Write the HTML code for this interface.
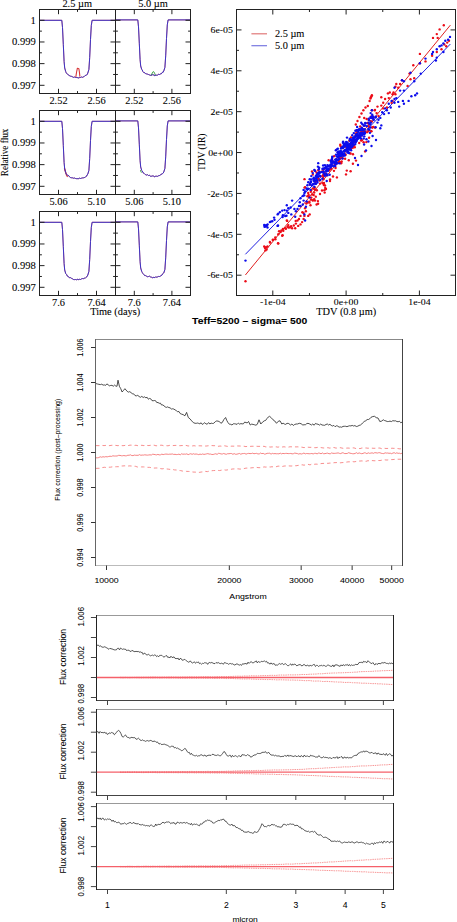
<!DOCTYPE html>
<html><head><meta charset="utf-8"><style>
html,body{margin:0;padding:0;background:#fff;}
body{width:457px;height:922px;overflow:hidden;}
svg{display:block;}

</style></head><body>
<svg width="457" height="922" viewBox="0 0 457 922">
<rect width="457" height="922" fill="#fff"/>
<polyline points="39.5,20.3 61.8,20.3 62.5,27.52 63.3,44.37 64.1,61.56 64.7,67.97 65.7,71.53 66.23,72.8 66.77,73.55 67.3,74.1 68.03,74.58 68.77,74.96 69.5,75.82 70.5,76.16 71.5,76.36 72.5,76.8 73.5,77.37 74.5,77.02 75.5,77.49 76.33,77.5 77.17,77.66 78,77.6 78.83,78.05 79.67,77.53 80.5,77.49 81.5,76.99 82.5,77.33 83.5,76.8 84.33,76.44 85.17,75.51 86,75.31 86.6,75.05 87.2,74.4 87.8,73.07 88.9,69.46 89.7,57.49 90.5,39.5 91.3,25.46 92.1,20.3 115.5,20.3" fill="none" stroke="#d8383a" stroke-width="0.75" stroke-linejoin="round" />
<polyline points="75.8,77.2 76.6,72 77.4,68.2 78.9,68.8 79.4,72 79.9,76.6" fill="none" stroke="#d8383a" stroke-width="1.1" stroke-linejoin="round" />
<polyline points="39.5,20.3 61.8,20.3 62.5,27.52 63.3,44.37 64.1,61.56 64.7,67.97 65.7,71.53 66.23,72.8 66.77,73.55 67.3,74.1 68.03,74.58 68.77,74.96 69.5,75.82 70.5,76.16 71.5,76.36 72.5,76.8 73.5,77.37 74.5,77.02 75.5,77.49 76.33,77.5 77.17,77.66 78,77.6 78.83,78.05 79.67,77.53 80.5,77.49 81.5,76.99 82.5,77.33 83.5,76.8 84.33,76.44 85.17,75.51 86,75.31 86.6,75.05 87.2,74.4 87.8,73.07 88.9,69.46 89.7,57.49 90.5,39.5 91.3,25.46 92.1,20.3 115.5,20.3" fill="none" stroke="#3030cc" stroke-width="0.95" stroke-linejoin="round" />
<rect x="39.5" y="9.5" width="76.0" height="84.0" fill="none" stroke="#222" stroke-width="1"/>
<line x1="58.5" y1="93.5" x2="58.5" y2="88.8" stroke="#222" stroke-width="1" />
<line x1="58.5" y1="9.5" x2="58.5" y2="14.2" stroke="#222" stroke-width="1" />
<line x1="77.5" y1="93.5" x2="77.5" y2="91.1" stroke="#222" stroke-width="1" />
<line x1="77.5" y1="9.5" x2="77.5" y2="11.9" stroke="#222" stroke-width="1" />
<line x1="96.5" y1="93.5" x2="96.5" y2="88.8" stroke="#222" stroke-width="1" />
<line x1="96.5" y1="9.5" x2="96.5" y2="14.2" stroke="#222" stroke-width="1" />
<line x1="39.5" y1="20.3" x2="44.5" y2="20.3" stroke="#222" stroke-width="1" />
<line x1="115.5" y1="20.3" x2="110.5" y2="20.3" stroke="#222" stroke-width="1" />
<line x1="39.5" y1="31.13" x2="41.9" y2="31.13" stroke="#222" stroke-width="1" />
<line x1="115.5" y1="31.13" x2="113.1" y2="31.13" stroke="#222" stroke-width="1" />
<line x1="39.5" y1="41.97" x2="44.5" y2="41.97" stroke="#222" stroke-width="1" />
<line x1="115.5" y1="41.97" x2="110.5" y2="41.97" stroke="#222" stroke-width="1" />
<line x1="39.5" y1="52.8" x2="41.9" y2="52.8" stroke="#222" stroke-width="1" />
<line x1="115.5" y1="52.8" x2="113.1" y2="52.8" stroke="#222" stroke-width="1" />
<line x1="39.5" y1="63.63" x2="44.5" y2="63.63" stroke="#222" stroke-width="1" />
<line x1="115.5" y1="63.63" x2="110.5" y2="63.63" stroke="#222" stroke-width="1" />
<line x1="39.5" y1="74.47" x2="41.9" y2="74.47" stroke="#222" stroke-width="1" />
<line x1="115.5" y1="74.47" x2="113.1" y2="74.47" stroke="#222" stroke-width="1" />
<line x1="39.5" y1="85.3" x2="44.5" y2="85.3" stroke="#222" stroke-width="1" />
<line x1="115.5" y1="85.3" x2="110.5" y2="85.3" stroke="#222" stroke-width="1" />
<text transform="translate(58.5,103.7) scale(1.08,1)" font-family="&quot;Liberation Serif&quot;, serif" font-size="9.6" font-weight="normal" text-anchor="middle" fill="#000" stroke="#000" stroke-width="0.08">2.52</text>
<text transform="translate(96.5,103.7) scale(1.08,1)" font-family="&quot;Liberation Serif&quot;, serif" font-size="9.6" font-weight="normal" text-anchor="middle" fill="#000" stroke="#000" stroke-width="0.08">2.56</text>
<polyline points="115.5,19.9 137.8,19.9 138.5,26.88 139.3,43.17 140.1,59.79 140.7,65.99 141.7,69.43 142.23,69.82 142.77,71.51 143.3,71.92 144.03,72.79 144.77,72.73 145.5,73.58 146.5,73.89 147.5,74.15 148.5,74.52 149.5,74.93 150.5,75.31 151.5,75.19 152.33,74.74 153.17,74.7 154,75.3 154.83,75.67 155.67,75.15 156.5,75.19 157.5,75.28 158.5,74.15 159.5,74.52 160.33,73.98 161.17,73.83 162,73.08 162.6,72.04 163.2,72.18 163.8,70.92 164.9,67.43 165.7,55.85 166.5,38.46 167.3,24.89 168.1,19.9 190.5,19.9" fill="none" stroke="#d8383a" stroke-width="0.75" stroke-linejoin="round" />
<polyline points="151.2,75.5 152.6,72.2 153.6,71.6 154.6,73.2 155.4,75.6" fill="none" stroke="#3aa040" stroke-width="1.0" stroke-linejoin="round" />
<polyline points="115.5,19.9 137.8,19.9 138.5,26.88 139.3,43.17 140.1,59.79 140.7,65.99 141.7,69.43 142.23,69.82 142.77,71.51 143.3,71.92 144.03,72.79 144.77,72.73 145.5,73.58 146.5,73.89 147.5,74.15 148.5,74.52 149.5,74.93 150.5,75.31 151.5,75.19 152.33,74.74 153.17,74.7 154,75.3 154.83,75.67 155.67,75.15 156.5,75.19 157.5,75.28 158.5,74.15 159.5,74.52 160.33,73.98 161.17,73.83 162,73.08 162.6,72.04 163.2,72.18 163.8,70.92 164.9,67.43 165.7,55.85 166.5,38.46 167.3,24.89 168.1,19.9 190.5,19.9" fill="none" stroke="#3030cc" stroke-width="0.95" stroke-linejoin="round" />
<rect x="115.5" y="9.5" width="75.0" height="84.0" fill="none" stroke="#222" stroke-width="1"/>
<line x1="134.3" y1="93.5" x2="134.3" y2="88.8" stroke="#222" stroke-width="1" />
<line x1="134.3" y1="9.5" x2="134.3" y2="14.2" stroke="#222" stroke-width="1" />
<line x1="153.1" y1="93.5" x2="153.1" y2="91.1" stroke="#222" stroke-width="1" />
<line x1="153.1" y1="9.5" x2="153.1" y2="11.9" stroke="#222" stroke-width="1" />
<line x1="171.9" y1="93.5" x2="171.9" y2="88.8" stroke="#222" stroke-width="1" />
<line x1="171.9" y1="9.5" x2="171.9" y2="14.2" stroke="#222" stroke-width="1" />
<line x1="115.5" y1="20.3" x2="120.5" y2="20.3" stroke="#222" stroke-width="1" />
<line x1="190.5" y1="20.3" x2="185.5" y2="20.3" stroke="#222" stroke-width="1" />
<line x1="115.5" y1="31.13" x2="117.9" y2="31.13" stroke="#222" stroke-width="1" />
<line x1="190.5" y1="31.13" x2="188.1" y2="31.13" stroke="#222" stroke-width="1" />
<line x1="115.5" y1="41.97" x2="120.5" y2="41.97" stroke="#222" stroke-width="1" />
<line x1="190.5" y1="41.97" x2="185.5" y2="41.97" stroke="#222" stroke-width="1" />
<line x1="115.5" y1="52.8" x2="117.9" y2="52.8" stroke="#222" stroke-width="1" />
<line x1="190.5" y1="52.8" x2="188.1" y2="52.8" stroke="#222" stroke-width="1" />
<line x1="115.5" y1="63.63" x2="120.5" y2="63.63" stroke="#222" stroke-width="1" />
<line x1="190.5" y1="63.63" x2="185.5" y2="63.63" stroke="#222" stroke-width="1" />
<line x1="115.5" y1="74.47" x2="117.9" y2="74.47" stroke="#222" stroke-width="1" />
<line x1="190.5" y1="74.47" x2="188.1" y2="74.47" stroke="#222" stroke-width="1" />
<line x1="115.5" y1="85.3" x2="120.5" y2="85.3" stroke="#222" stroke-width="1" />
<line x1="190.5" y1="85.3" x2="185.5" y2="85.3" stroke="#222" stroke-width="1" />
<text transform="translate(134.3,103.7) scale(1.08,1)" font-family="&quot;Liberation Serif&quot;, serif" font-size="9.6" font-weight="normal" text-anchor="middle" fill="#000" stroke="#000" stroke-width="0.08">2.52</text>
<text transform="translate(171.9,103.7) scale(1.08,1)" font-family="&quot;Liberation Serif&quot;, serif" font-size="9.6" font-weight="normal" text-anchor="middle" fill="#000" stroke="#000" stroke-width="0.08">2.56</text>
<text transform="translate(35.8,23.7) scale(1.08,1)" font-family="&quot;Liberation Serif&quot;, serif" font-size="9.8" font-weight="normal" text-anchor="end" fill="#000" stroke="#000" stroke-width="0.08">1</text>
<text transform="translate(35.8,45.37) scale(1.08,1)" font-family="&quot;Liberation Serif&quot;, serif" font-size="9.8" font-weight="normal" text-anchor="end" fill="#000" stroke="#000" stroke-width="0.08">0.999</text>
<text transform="translate(35.8,67.03) scale(1.08,1)" font-family="&quot;Liberation Serif&quot;, serif" font-size="9.8" font-weight="normal" text-anchor="end" fill="#000" stroke="#000" stroke-width="0.08">0.998</text>
<text transform="translate(35.8,88.7) scale(1.08,1)" font-family="&quot;Liberation Serif&quot;, serif" font-size="9.8" font-weight="normal" text-anchor="end" fill="#000" stroke="#000" stroke-width="0.08">0.997</text>
<polyline points="39.5,121.3 61.8,121.3 62.5,128.52 63.3,145.37 64.1,162.56 64.7,168.97 65.7,172.53 66.23,173.93 66.77,174.78 67.3,175.1 68.03,175.15 68.77,175.75 69.5,176.82 70.5,177.55 71.5,177.76 72.5,177.8 73.5,178.23 74.5,178.03 75.5,178.49 76.33,178.65 77.17,178.69 78,178.6 78.83,178.66 79.67,178.11 80.5,178.49 81.5,178.17 82.5,177.9 83.5,177.8 84.33,177.57 85.17,177.4 86,176.31 86.6,176.1 87.2,174.87 87.8,174.07 88.9,170.46 89.7,158.49 90.5,140.5 91.3,126.46 92.1,121.3 115.5,121.3" fill="none" stroke="#d8383a" stroke-width="0.75" stroke-linejoin="round" />
<polyline points="64.4,168 65.4,171.5 66.6,175.5 67.6,176.8" fill="none" stroke="#d8383a" stroke-width="1.2" stroke-linejoin="round" />
<polyline points="39.5,121.3 61.8,121.3 62.5,128.52 63.3,145.37 64.1,162.56 64.7,168.97 65.7,172.53 66.23,173.93 66.77,174.78 67.3,175.1 68.03,175.15 68.77,175.75 69.5,176.82 70.5,177.55 71.5,177.76 72.5,177.8 73.5,178.23 74.5,178.03 75.5,178.49 76.33,178.65 77.17,178.69 78,178.6 78.83,178.66 79.67,178.11 80.5,178.49 81.5,178.17 82.5,177.9 83.5,177.8 84.33,177.57 85.17,177.4 86,176.31 86.6,176.1 87.2,174.87 87.8,174.07 88.9,170.46 89.7,158.49 90.5,140.5 91.3,126.46 92.1,121.3 115.5,121.3" fill="none" stroke="#3030cc" stroke-width="0.95" stroke-linejoin="round" />
<rect x="39.5" y="110.5" width="76.0" height="84.0" fill="none" stroke="#222" stroke-width="1"/>
<line x1="58.5" y1="194.5" x2="58.5" y2="189.8" stroke="#222" stroke-width="1" />
<line x1="58.5" y1="110.5" x2="58.5" y2="115.2" stroke="#222" stroke-width="1" />
<line x1="77.5" y1="194.5" x2="77.5" y2="192.1" stroke="#222" stroke-width="1" />
<line x1="77.5" y1="110.5" x2="77.5" y2="112.9" stroke="#222" stroke-width="1" />
<line x1="96.5" y1="194.5" x2="96.5" y2="189.8" stroke="#222" stroke-width="1" />
<line x1="96.5" y1="110.5" x2="96.5" y2="115.2" stroke="#222" stroke-width="1" />
<line x1="39.5" y1="121.3" x2="44.5" y2="121.3" stroke="#222" stroke-width="1" />
<line x1="115.5" y1="121.3" x2="110.5" y2="121.3" stroke="#222" stroke-width="1" />
<line x1="39.5" y1="132.13" x2="41.9" y2="132.13" stroke="#222" stroke-width="1" />
<line x1="115.5" y1="132.13" x2="113.1" y2="132.13" stroke="#222" stroke-width="1" />
<line x1="39.5" y1="142.97" x2="44.5" y2="142.97" stroke="#222" stroke-width="1" />
<line x1="115.5" y1="142.97" x2="110.5" y2="142.97" stroke="#222" stroke-width="1" />
<line x1="39.5" y1="153.8" x2="41.9" y2="153.8" stroke="#222" stroke-width="1" />
<line x1="115.5" y1="153.8" x2="113.1" y2="153.8" stroke="#222" stroke-width="1" />
<line x1="39.5" y1="164.63" x2="44.5" y2="164.63" stroke="#222" stroke-width="1" />
<line x1="115.5" y1="164.63" x2="110.5" y2="164.63" stroke="#222" stroke-width="1" />
<line x1="39.5" y1="175.47" x2="41.9" y2="175.47" stroke="#222" stroke-width="1" />
<line x1="115.5" y1="175.47" x2="113.1" y2="175.47" stroke="#222" stroke-width="1" />
<line x1="39.5" y1="186.3" x2="44.5" y2="186.3" stroke="#222" stroke-width="1" />
<line x1="115.5" y1="186.3" x2="110.5" y2="186.3" stroke="#222" stroke-width="1" />
<text transform="translate(58.5,204.7) scale(1.08,1)" font-family="&quot;Liberation Serif&quot;, serif" font-size="9.6" font-weight="normal" text-anchor="middle" fill="#000" stroke="#000" stroke-width="0.08">5.06</text>
<text transform="translate(96.5,204.7) scale(1.08,1)" font-family="&quot;Liberation Serif&quot;, serif" font-size="9.6" font-weight="normal" text-anchor="middle" fill="#000" stroke="#000" stroke-width="0.08">5.10</text>
<polyline points="115.5,120.9 137.8,120.9 138.5,127.88 139.3,144.17 140.1,160.79 140.7,166.99 141.7,170.43 142.23,170.94 142.77,172.14 143.3,172.92 144.03,173.32 144.77,174.15 145.5,174.58 146.5,175.05 147.5,174.69 148.5,175.52 149.5,175.16 150.5,176.37 151.5,176.19 152.33,175.94 153.17,175.94 154,176.3 154.83,176.86 155.67,176.19 156.5,176.19 157.5,176.37 158.5,175.72 159.5,175.52 160.33,175.21 161.17,174.14 162,174.08 162.6,173.53 163.2,173.09 163.8,171.92 164.9,168.43 165.7,156.85 166.5,139.46 167.3,125.89 168.1,120.9 190.5,120.9" fill="none" stroke="#d8383a" stroke-width="0.75" stroke-linejoin="round" />
<polyline points="140.4,170.2 141.4,172.6" fill="none" stroke="#3aa040" stroke-width="1.0" stroke-linejoin="round" />
<polyline points="115.5,120.9 137.8,120.9 138.5,127.88 139.3,144.17 140.1,160.79 140.7,166.99 141.7,170.43 142.23,170.94 142.77,172.14 143.3,172.92 144.03,173.32 144.77,174.15 145.5,174.58 146.5,175.05 147.5,174.69 148.5,175.52 149.5,175.16 150.5,176.37 151.5,176.19 152.33,175.94 153.17,175.94 154,176.3 154.83,176.86 155.67,176.19 156.5,176.19 157.5,176.37 158.5,175.72 159.5,175.52 160.33,175.21 161.17,174.14 162,174.08 162.6,173.53 163.2,173.09 163.8,171.92 164.9,168.43 165.7,156.85 166.5,139.46 167.3,125.89 168.1,120.9 190.5,120.9" fill="none" stroke="#3030cc" stroke-width="0.95" stroke-linejoin="round" />
<rect x="115.5" y="110.5" width="75.0" height="84.0" fill="none" stroke="#222" stroke-width="1"/>
<line x1="134.3" y1="194.5" x2="134.3" y2="189.8" stroke="#222" stroke-width="1" />
<line x1="134.3" y1="110.5" x2="134.3" y2="115.2" stroke="#222" stroke-width="1" />
<line x1="153.1" y1="194.5" x2="153.1" y2="192.1" stroke="#222" stroke-width="1" />
<line x1="153.1" y1="110.5" x2="153.1" y2="112.9" stroke="#222" stroke-width="1" />
<line x1="171.9" y1="194.5" x2="171.9" y2="189.8" stroke="#222" stroke-width="1" />
<line x1="171.9" y1="110.5" x2="171.9" y2="115.2" stroke="#222" stroke-width="1" />
<line x1="115.5" y1="121.3" x2="120.5" y2="121.3" stroke="#222" stroke-width="1" />
<line x1="190.5" y1="121.3" x2="185.5" y2="121.3" stroke="#222" stroke-width="1" />
<line x1="115.5" y1="132.13" x2="117.9" y2="132.13" stroke="#222" stroke-width="1" />
<line x1="190.5" y1="132.13" x2="188.1" y2="132.13" stroke="#222" stroke-width="1" />
<line x1="115.5" y1="142.97" x2="120.5" y2="142.97" stroke="#222" stroke-width="1" />
<line x1="190.5" y1="142.97" x2="185.5" y2="142.97" stroke="#222" stroke-width="1" />
<line x1="115.5" y1="153.8" x2="117.9" y2="153.8" stroke="#222" stroke-width="1" />
<line x1="190.5" y1="153.8" x2="188.1" y2="153.8" stroke="#222" stroke-width="1" />
<line x1="115.5" y1="164.63" x2="120.5" y2="164.63" stroke="#222" stroke-width="1" />
<line x1="190.5" y1="164.63" x2="185.5" y2="164.63" stroke="#222" stroke-width="1" />
<line x1="115.5" y1="175.47" x2="117.9" y2="175.47" stroke="#222" stroke-width="1" />
<line x1="190.5" y1="175.47" x2="188.1" y2="175.47" stroke="#222" stroke-width="1" />
<line x1="115.5" y1="186.3" x2="120.5" y2="186.3" stroke="#222" stroke-width="1" />
<line x1="190.5" y1="186.3" x2="185.5" y2="186.3" stroke="#222" stroke-width="1" />
<text transform="translate(134.3,204.7) scale(1.08,1)" font-family="&quot;Liberation Serif&quot;, serif" font-size="9.6" font-weight="normal" text-anchor="middle" fill="#000" stroke="#000" stroke-width="0.08">5.06</text>
<text transform="translate(171.9,204.7) scale(1.08,1)" font-family="&quot;Liberation Serif&quot;, serif" font-size="9.6" font-weight="normal" text-anchor="middle" fill="#000" stroke="#000" stroke-width="0.08">5.10</text>
<text transform="translate(35.8,124.7) scale(1.08,1)" font-family="&quot;Liberation Serif&quot;, serif" font-size="9.8" font-weight="normal" text-anchor="end" fill="#000" stroke="#000" stroke-width="0.08">1</text>
<text transform="translate(35.8,146.37) scale(1.08,1)" font-family="&quot;Liberation Serif&quot;, serif" font-size="9.8" font-weight="normal" text-anchor="end" fill="#000" stroke="#000" stroke-width="0.08">0.999</text>
<text transform="translate(35.8,168.03) scale(1.08,1)" font-family="&quot;Liberation Serif&quot;, serif" font-size="9.8" font-weight="normal" text-anchor="end" fill="#000" stroke="#000" stroke-width="0.08">0.998</text>
<text transform="translate(35.8,189.7) scale(1.08,1)" font-family="&quot;Liberation Serif&quot;, serif" font-size="9.8" font-weight="normal" text-anchor="end" fill="#000" stroke="#000" stroke-width="0.08">0.997</text>
<polyline points="39.5,222.3 61.8,222.3 62.5,229.52 63.3,246.37 64.1,263.56 64.7,269.97 65.7,273.53 66.23,274.07 66.77,274.77 67.3,276.1 68.03,276.55 68.77,276.84 69.5,277.82 70.5,277.63 71.5,278.36 72.5,278.8 73.5,279.53 74.5,279.62 75.5,279.49 76.33,279.84 77.17,279.23 78,279.6 78.83,279.61 79.67,279.26 80.5,279.49 81.5,278.86 82.5,278.55 83.5,278.8 84.33,277.96 85.17,278.32 86,277.31 86.6,276.96 87.2,276.19 87.8,275.07 88.9,271.46 89.7,259.49 90.5,241.5 91.3,227.46 92.1,222.3 115.5,222.3" fill="none" stroke="#d8383a" stroke-width="0.75" stroke-linejoin="round" />
<polyline points="39.5,222.3 61.8,222.3 62.5,229.52 63.3,246.37 64.1,263.56 64.7,269.97 65.7,273.53 66.23,274.07 66.77,274.77 67.3,276.1 68.03,276.55 68.77,276.84 69.5,277.82 70.5,277.63 71.5,278.36 72.5,278.8 73.5,279.53 74.5,279.62 75.5,279.49 76.33,279.84 77.17,279.23 78,279.6 78.83,279.61 79.67,279.26 80.5,279.49 81.5,278.86 82.5,278.55 83.5,278.8 84.33,277.96 85.17,278.32 86,277.31 86.6,276.96 87.2,276.19 87.8,275.07 88.9,271.46 89.7,259.49 90.5,241.5 91.3,227.46 92.1,222.3 115.5,222.3" fill="none" stroke="#3030cc" stroke-width="0.95" stroke-linejoin="round" />
<rect x="39.5" y="211.5" width="76.0" height="84.0" fill="none" stroke="#222" stroke-width="1"/>
<line x1="58.5" y1="295.5" x2="58.5" y2="290.8" stroke="#222" stroke-width="1" />
<line x1="58.5" y1="211.5" x2="58.5" y2="216.2" stroke="#222" stroke-width="1" />
<line x1="77.5" y1="295.5" x2="77.5" y2="293.1" stroke="#222" stroke-width="1" />
<line x1="77.5" y1="211.5" x2="77.5" y2="213.9" stroke="#222" stroke-width="1" />
<line x1="96.5" y1="295.5" x2="96.5" y2="290.8" stroke="#222" stroke-width="1" />
<line x1="96.5" y1="211.5" x2="96.5" y2="216.2" stroke="#222" stroke-width="1" />
<line x1="39.5" y1="222.3" x2="44.5" y2="222.3" stroke="#222" stroke-width="1" />
<line x1="115.5" y1="222.3" x2="110.5" y2="222.3" stroke="#222" stroke-width="1" />
<line x1="39.5" y1="233.13" x2="41.9" y2="233.13" stroke="#222" stroke-width="1" />
<line x1="115.5" y1="233.13" x2="113.1" y2="233.13" stroke="#222" stroke-width="1" />
<line x1="39.5" y1="243.97" x2="44.5" y2="243.97" stroke="#222" stroke-width="1" />
<line x1="115.5" y1="243.97" x2="110.5" y2="243.97" stroke="#222" stroke-width="1" />
<line x1="39.5" y1="254.8" x2="41.9" y2="254.8" stroke="#222" stroke-width="1" />
<line x1="115.5" y1="254.8" x2="113.1" y2="254.8" stroke="#222" stroke-width="1" />
<line x1="39.5" y1="265.63" x2="44.5" y2="265.63" stroke="#222" stroke-width="1" />
<line x1="115.5" y1="265.63" x2="110.5" y2="265.63" stroke="#222" stroke-width="1" />
<line x1="39.5" y1="276.47" x2="41.9" y2="276.47" stroke="#222" stroke-width="1" />
<line x1="115.5" y1="276.47" x2="113.1" y2="276.47" stroke="#222" stroke-width="1" />
<line x1="39.5" y1="287.3" x2="44.5" y2="287.3" stroke="#222" stroke-width="1" />
<line x1="115.5" y1="287.3" x2="110.5" y2="287.3" stroke="#222" stroke-width="1" />
<text transform="translate(58.5,305.7) scale(1.08,1)" font-family="&quot;Liberation Serif&quot;, serif" font-size="9.6" font-weight="normal" text-anchor="middle" fill="#000" stroke="#000" stroke-width="0.08">7.6</text>
<text transform="translate(96.5,305.7) scale(1.08,1)" font-family="&quot;Liberation Serif&quot;, serif" font-size="9.6" font-weight="normal" text-anchor="middle" fill="#000" stroke="#000" stroke-width="0.08">7.64</text>
<polyline points="115.5,221.9 137.8,221.9 138.5,228.88 139.3,245.17 140.1,261.79 140.7,267.99 141.7,271.43 142.23,272.41 142.77,273.38 143.3,273.92 144.03,274.83 144.77,275.56 145.5,275.58 146.5,276.18 147.5,276.72 148.5,276.52 149.5,276.18 150.5,276.93 151.5,277.19 152.33,277.76 153.17,277.44 154,277.3 154.83,277.74 155.67,276.76 156.5,277.19 157.5,276.93 158.5,276.44 159.5,276.52 160.33,276.1 161.17,275.65 162,275.08 162.6,273.78 163.2,273.3 163.8,272.92 164.9,269.43 165.7,257.85 166.5,240.46 167.3,226.89 168.1,221.9 190.5,221.9" fill="none" stroke="#d8383a" stroke-width="0.75" stroke-linejoin="round" />
<polyline points="115.5,221.9 137.8,221.9 138.5,228.88 139.3,245.17 140.1,261.79 140.7,267.99 141.7,271.43 142.23,272.41 142.77,273.38 143.3,273.92 144.03,274.83 144.77,275.56 145.5,275.58 146.5,276.18 147.5,276.72 148.5,276.52 149.5,276.18 150.5,276.93 151.5,277.19 152.33,277.76 153.17,277.44 154,277.3 154.83,277.74 155.67,276.76 156.5,277.19 157.5,276.93 158.5,276.44 159.5,276.52 160.33,276.1 161.17,275.65 162,275.08 162.6,273.78 163.2,273.3 163.8,272.92 164.9,269.43 165.7,257.85 166.5,240.46 167.3,226.89 168.1,221.9 190.5,221.9" fill="none" stroke="#3030cc" stroke-width="0.95" stroke-linejoin="round" />
<rect x="115.5" y="211.5" width="75.0" height="84.0" fill="none" stroke="#222" stroke-width="1"/>
<line x1="134.3" y1="295.5" x2="134.3" y2="290.8" stroke="#222" stroke-width="1" />
<line x1="134.3" y1="211.5" x2="134.3" y2="216.2" stroke="#222" stroke-width="1" />
<line x1="153.1" y1="295.5" x2="153.1" y2="293.1" stroke="#222" stroke-width="1" />
<line x1="153.1" y1="211.5" x2="153.1" y2="213.9" stroke="#222" stroke-width="1" />
<line x1="171.9" y1="295.5" x2="171.9" y2="290.8" stroke="#222" stroke-width="1" />
<line x1="171.9" y1="211.5" x2="171.9" y2="216.2" stroke="#222" stroke-width="1" />
<line x1="115.5" y1="222.3" x2="120.5" y2="222.3" stroke="#222" stroke-width="1" />
<line x1="190.5" y1="222.3" x2="185.5" y2="222.3" stroke="#222" stroke-width="1" />
<line x1="115.5" y1="233.13" x2="117.9" y2="233.13" stroke="#222" stroke-width="1" />
<line x1="190.5" y1="233.13" x2="188.1" y2="233.13" stroke="#222" stroke-width="1" />
<line x1="115.5" y1="243.97" x2="120.5" y2="243.97" stroke="#222" stroke-width="1" />
<line x1="190.5" y1="243.97" x2="185.5" y2="243.97" stroke="#222" stroke-width="1" />
<line x1="115.5" y1="254.8" x2="117.9" y2="254.8" stroke="#222" stroke-width="1" />
<line x1="190.5" y1="254.8" x2="188.1" y2="254.8" stroke="#222" stroke-width="1" />
<line x1="115.5" y1="265.63" x2="120.5" y2="265.63" stroke="#222" stroke-width="1" />
<line x1="190.5" y1="265.63" x2="185.5" y2="265.63" stroke="#222" stroke-width="1" />
<line x1="115.5" y1="276.47" x2="117.9" y2="276.47" stroke="#222" stroke-width="1" />
<line x1="190.5" y1="276.47" x2="188.1" y2="276.47" stroke="#222" stroke-width="1" />
<line x1="115.5" y1="287.3" x2="120.5" y2="287.3" stroke="#222" stroke-width="1" />
<line x1="190.5" y1="287.3" x2="185.5" y2="287.3" stroke="#222" stroke-width="1" />
<text transform="translate(134.3,305.7) scale(1.08,1)" font-family="&quot;Liberation Serif&quot;, serif" font-size="9.6" font-weight="normal" text-anchor="middle" fill="#000" stroke="#000" stroke-width="0.08">7.6</text>
<text transform="translate(171.9,305.7) scale(1.08,1)" font-family="&quot;Liberation Serif&quot;, serif" font-size="9.6" font-weight="normal" text-anchor="middle" fill="#000" stroke="#000" stroke-width="0.08">7.64</text>
<text transform="translate(35.8,225.7) scale(1.08,1)" font-family="&quot;Liberation Serif&quot;, serif" font-size="9.8" font-weight="normal" text-anchor="end" fill="#000" stroke="#000" stroke-width="0.08">1</text>
<text transform="translate(35.8,247.37) scale(1.08,1)" font-family="&quot;Liberation Serif&quot;, serif" font-size="9.8" font-weight="normal" text-anchor="end" fill="#000" stroke="#000" stroke-width="0.08">0.999</text>
<text transform="translate(35.8,269.03) scale(1.08,1)" font-family="&quot;Liberation Serif&quot;, serif" font-size="9.8" font-weight="normal" text-anchor="end" fill="#000" stroke="#000" stroke-width="0.08">0.998</text>
<text transform="translate(35.8,290.7) scale(1.08,1)" font-family="&quot;Liberation Serif&quot;, serif" font-size="9.8" font-weight="normal" text-anchor="end" fill="#000" stroke="#000" stroke-width="0.08">0.997</text>
<text transform="translate(77.2,6.5) scale(1.08,1)" font-family="&quot;Liberation Serif&quot;, serif" font-size="9.6" font-weight="normal" text-anchor="middle" fill="#000" stroke="#000" stroke-width="0.08">2.5 µm</text>
<text transform="translate(153,6.5) scale(1.08,1)" font-family="&quot;Liberation Serif&quot;, serif" font-size="9.6" font-weight="normal" text-anchor="middle" fill="#000" stroke="#000" stroke-width="0.08">5.0 µm</text>
<text transform="translate(115.2,315) scale(1.08,1)" font-family="&quot;Liberation Serif&quot;, serif" font-size="9.6" font-weight="normal" text-anchor="middle" fill="#000" stroke="#000" stroke-width="0.08">Time (days)</text>
<text transform="translate(7.8,152.4) rotate(-90) scale(1.0,1)" font-family="&quot;Liberation Serif&quot;, serif" font-size="9.6" font-weight="normal" text-anchor="middle" fill="#000" stroke="#000" stroke-width="0.08" textLength="47.6" lengthAdjust="spacingAndGlyphs">Relative flux</text>
<rect x="236.5" y="9.5" width="219.0" height="286.0" fill="none" stroke="#222" stroke-width="1"/>
<line x1="236.5" y1="275.19" x2="241.5" y2="275.19" stroke="#222" stroke-width="1" />
<line x1="455.5" y1="275.19" x2="450.5" y2="275.19" stroke="#222" stroke-width="1" />
<line x1="236.5" y1="254.75" x2="239" y2="254.75" stroke="#222" stroke-width="1" />
<line x1="455.5" y1="254.75" x2="453" y2="254.75" stroke="#222" stroke-width="1" />
<line x1="236.5" y1="234.31" x2="241.5" y2="234.31" stroke="#222" stroke-width="1" />
<line x1="455.5" y1="234.31" x2="450.5" y2="234.31" stroke="#222" stroke-width="1" />
<line x1="236.5" y1="213.87" x2="239" y2="213.87" stroke="#222" stroke-width="1" />
<line x1="455.5" y1="213.87" x2="453" y2="213.87" stroke="#222" stroke-width="1" />
<line x1="236.5" y1="193.43" x2="241.5" y2="193.43" stroke="#222" stroke-width="1" />
<line x1="455.5" y1="193.43" x2="450.5" y2="193.43" stroke="#222" stroke-width="1" />
<line x1="236.5" y1="172.99" x2="239" y2="172.99" stroke="#222" stroke-width="1" />
<line x1="455.5" y1="172.99" x2="453" y2="172.99" stroke="#222" stroke-width="1" />
<line x1="236.5" y1="152.55" x2="241.5" y2="152.55" stroke="#222" stroke-width="1" />
<line x1="455.5" y1="152.55" x2="450.5" y2="152.55" stroke="#222" stroke-width="1" />
<line x1="236.5" y1="132.11" x2="239" y2="132.11" stroke="#222" stroke-width="1" />
<line x1="455.5" y1="132.11" x2="453" y2="132.11" stroke="#222" stroke-width="1" />
<line x1="236.5" y1="111.67" x2="241.5" y2="111.67" stroke="#222" stroke-width="1" />
<line x1="455.5" y1="111.67" x2="450.5" y2="111.67" stroke="#222" stroke-width="1" />
<line x1="236.5" y1="91.23" x2="239" y2="91.23" stroke="#222" stroke-width="1" />
<line x1="455.5" y1="91.23" x2="453" y2="91.23" stroke="#222" stroke-width="1" />
<line x1="236.5" y1="70.79" x2="241.5" y2="70.79" stroke="#222" stroke-width="1" />
<line x1="455.5" y1="70.79" x2="450.5" y2="70.79" stroke="#222" stroke-width="1" />
<line x1="236.5" y1="50.35" x2="239" y2="50.35" stroke="#222" stroke-width="1" />
<line x1="455.5" y1="50.35" x2="453" y2="50.35" stroke="#222" stroke-width="1" />
<line x1="236.5" y1="29.91" x2="241.5" y2="29.91" stroke="#222" stroke-width="1" />
<line x1="455.5" y1="29.91" x2="450.5" y2="29.91" stroke="#222" stroke-width="1" />
<line x1="272.8" y1="295.5" x2="272.8" y2="290.5" stroke="#222" stroke-width="1" />
<line x1="272.8" y1="9.5" x2="272.8" y2="14.5" stroke="#222" stroke-width="1" />
<line x1="309.45" y1="295.5" x2="309.45" y2="293" stroke="#222" stroke-width="1" />
<line x1="309.45" y1="9.5" x2="309.45" y2="12" stroke="#222" stroke-width="1" />
<line x1="346.1" y1="295.5" x2="346.1" y2="290.5" stroke="#222" stroke-width="1" />
<line x1="346.1" y1="9.5" x2="346.1" y2="14.5" stroke="#222" stroke-width="1" />
<line x1="382.75" y1="295.5" x2="382.75" y2="293" stroke="#222" stroke-width="1" />
<line x1="382.75" y1="9.5" x2="382.75" y2="12" stroke="#222" stroke-width="1" />
<line x1="419.4" y1="295.5" x2="419.4" y2="290.5" stroke="#222" stroke-width="1" />
<line x1="419.4" y1="9.5" x2="419.4" y2="14.5" stroke="#222" stroke-width="1" />
<text transform="translate(232.8,33.11) scale(1.09,1)" font-family="&quot;Liberation Serif&quot;, serif" font-size="9.0" font-weight="normal" text-anchor="end" fill="#000" stroke="#000" stroke-width="0.08">6e-05</text>
<text transform="translate(232.8,73.99) scale(1.09,1)" font-family="&quot;Liberation Serif&quot;, serif" font-size="9.0" font-weight="normal" text-anchor="end" fill="#000" stroke="#000" stroke-width="0.08">4e-05</text>
<text transform="translate(232.8,114.87) scale(1.09,1)" font-family="&quot;Liberation Serif&quot;, serif" font-size="9.0" font-weight="normal" text-anchor="end" fill="#000" stroke="#000" stroke-width="0.08">2e-05</text>
<text transform="translate(232.8,155.75) scale(1.09,1)" font-family="&quot;Liberation Serif&quot;, serif" font-size="9.0" font-weight="normal" text-anchor="end" fill="#000" stroke="#000" stroke-width="0.08">0e+00</text>
<text transform="translate(232.8,196.63) scale(1.09,1)" font-family="&quot;Liberation Serif&quot;, serif" font-size="9.0" font-weight="normal" text-anchor="end" fill="#000" stroke="#000" stroke-width="0.08">-2e-05</text>
<text transform="translate(232.8,237.51) scale(1.09,1)" font-family="&quot;Liberation Serif&quot;, serif" font-size="9.0" font-weight="normal" text-anchor="end" fill="#000" stroke="#000" stroke-width="0.08">-4e-05</text>
<text transform="translate(232.8,278.39) scale(1.09,1)" font-family="&quot;Liberation Serif&quot;, serif" font-size="9.0" font-weight="normal" text-anchor="end" fill="#000" stroke="#000" stroke-width="0.08">-6e-05</text>
<text transform="translate(272.8,305.3) scale(1.09,1)" font-family="&quot;Liberation Serif&quot;, serif" font-size="9.0" font-weight="normal" text-anchor="middle" fill="#000" stroke="#000" stroke-width="0.08">-1e-04</text>
<text transform="translate(346.1,305.3) scale(1.09,1)" font-family="&quot;Liberation Serif&quot;, serif" font-size="9.0" font-weight="normal" text-anchor="middle" fill="#000" stroke="#000" stroke-width="0.08">0e+00</text>
<text transform="translate(419.4,305.3) scale(1.09,1)" font-family="&quot;Liberation Serif&quot;, serif" font-size="9.0" font-weight="normal" text-anchor="middle" fill="#000" stroke="#000" stroke-width="0.08">1e-04</text>
<text transform="translate(346.3,315) scale(1.09,1)" font-family="&quot;Liberation Serif&quot;, serif" font-size="9.5" font-weight="normal" text-anchor="middle" fill="#000" stroke="#000" stroke-width="0.08">TDV (0.8 µm)</text>
<text transform="translate(204.8,152.3) rotate(-90) scale(1.0,1)" font-family="&quot;Liberation Serif&quot;, serif" font-size="9.6" font-weight="normal" text-anchor="middle" fill="#000" stroke="#000" stroke-width="0.08" textLength="37.2" lengthAdjust="spacingAndGlyphs">TDV (IR)</text>
<line x1="251.4" y1="33.8" x2="267" y2="33.8" stroke="#e07878" stroke-width="1.2" />
<line x1="251.4" y1="45.7" x2="267" y2="45.7" stroke="#7878e0" stroke-width="1.2" />
<text transform="translate(274.9,36.8) scale(1.09,1)" font-family="&quot;Liberation Serif&quot;, serif" font-size="9.5" font-weight="normal" text-anchor="start" fill="#000" stroke="#000" stroke-width="0.08">2.5 µm</text>
<text transform="translate(274.9,48.7) scale(1.09,1)" font-family="&quot;Liberation Serif&quot;, serif" font-size="9.5" font-weight="normal" text-anchor="start" fill="#000" stroke="#000" stroke-width="0.08">5.0 µm</text>
<line x1="245.4" y1="275" x2="450.4" y2="25.1" stroke="#e02020" stroke-width="1.0" />
<line x1="245.4" y1="254.3" x2="450.4" y2="44" stroke="#2020e0" stroke-width="1.0" />
<circle cx="245.5" cy="281.3" r="1.2" fill="#ec0c18"/>
<circle cx="264.2" cy="246.5" r="1.2" fill="#ec0c18"/>
<circle cx="265" cy="248" r="1.2" fill="#ec0c18"/>
<circle cx="266" cy="247.2" r="1.2" fill="#ec0c18"/>
<circle cx="266.6" cy="249.5" r="1.2" fill="#ec0c18"/>
<circle cx="267.5" cy="246.5" r="1.2" fill="#ec0c18"/>
<circle cx="265.4" cy="250.4" r="1.2" fill="#ec0c18"/>
<circle cx="270.1" cy="242.6" r="1.2" fill="#ec0c18"/>
<circle cx="272.8" cy="240" r="1.2" fill="#ec0c18"/>
<circle cx="275.4" cy="239.3" r="1.2" fill="#ec0c18"/>
<circle cx="278" cy="243.2" r="1.2" fill="#ec0c18"/>
<circle cx="280.6" cy="232.1" r="1.2" fill="#ec0c18"/>
<circle cx="282.6" cy="235.3" r="1.2" fill="#ec0c18"/>
<circle cx="283.3" cy="230.8" r="1.2" fill="#ec0c18"/>
<circle cx="285.9" cy="228.8" r="1.2" fill="#ec0c18"/>
<circle cx="288.5" cy="227.5" r="1.2" fill="#ec0c18"/>
<circle cx="291.1" cy="226.2" r="1.2" fill="#ec0c18"/>
<circle cx="293.8" cy="225.5" r="1.2" fill="#ec0c18"/>
<circle cx="287.2" cy="220.9" r="1.2" fill="#ec0c18"/>
<circle cx="295.7" cy="220.9" r="1.2" fill="#ec0c18"/>
<circle cx="269.9" cy="242" r="1.2" fill="#ec0c18"/>
<circle cx="273" cy="239.7" r="1.2" fill="#ec0c18"/>
<circle cx="275.3" cy="237.4" r="1.2" fill="#ec0c18"/>
<circle cx="278.3" cy="234.3" r="1.2" fill="#ec0c18"/>
<circle cx="279.1" cy="231.3" r="1.2" fill="#ec0c18"/>
<circle cx="281.4" cy="230.5" r="1.2" fill="#ec0c18"/>
<circle cx="282.9" cy="229" r="1.2" fill="#ec0c18"/>
<circle cx="285.2" cy="228.2" r="1.2" fill="#ec0c18"/>
<circle cx="287.5" cy="226.7" r="1.2" fill="#ec0c18"/>
<circle cx="289.8" cy="227.4" r="1.2" fill="#ec0c18"/>
<circle cx="292.1" cy="228.2" r="1.2" fill="#ec0c18"/>
<circle cx="295.2" cy="228.2" r="1.2" fill="#ec0c18"/>
<circle cx="298.2" cy="225.9" r="1.2" fill="#ec0c18"/>
<circle cx="300.5" cy="224.4" r="1.2" fill="#ec0c18"/>
<circle cx="302.1" cy="222.1" r="1.2" fill="#ec0c18"/>
<circle cx="303.6" cy="219" r="1.2" fill="#ec0c18"/>
<circle cx="304.4" cy="215.9" r="1.2" fill="#ec0c18"/>
<circle cx="299" cy="219" r="1.2" fill="#ec0c18"/>
<circle cx="300.5" cy="215.9" r="1.2" fill="#ec0c18"/>
<circle cx="297.5" cy="220.5" r="1.2" fill="#ec0c18"/>
<circle cx="278.3" cy="243.5" r="1.2" fill="#ec0c18"/>
<circle cx="282.2" cy="235.8" r="1.2" fill="#ec0c18"/>
<circle cx="286.8" cy="220.5" r="1.2" fill="#ec0c18"/>
<circle cx="288.3" cy="225.1" r="1.2" fill="#ec0c18"/>
<circle cx="295.9" cy="223.6" r="1.2" fill="#ec0c18"/>
<circle cx="308.2" cy="215.9" r="1.2" fill="#ec0c18"/>
<circle cx="309.7" cy="214.4" r="1.2" fill="#ec0c18"/>
<circle cx="305.1" cy="208.3" r="1.2" fill="#ec0c18"/>
<circle cx="305.9" cy="211.3" r="1.2" fill="#ec0c18"/>
<circle cx="310.5" cy="205.2" r="1.2" fill="#ec0c18"/>
<circle cx="312.8" cy="200.6" r="1.2" fill="#ec0c18"/>
<circle cx="314.3" cy="199.1" r="1.2" fill="#ec0c18"/>
<circle cx="311.3" cy="197.6" r="1.2" fill="#ec0c18"/>
<circle cx="309" cy="196.8" r="1.2" fill="#ec0c18"/>
<circle cx="308.2" cy="193" r="1.2" fill="#ec0c18"/>
<circle cx="312" cy="194.5" r="1.2" fill="#ec0c18"/>
<circle cx="316.6" cy="204.5" r="1.2" fill="#ec0c18"/>
<circle cx="318.1" cy="203.7" r="1.2" fill="#ec0c18"/>
<circle cx="311.3" cy="189.9" r="1.2" fill="#ec0c18"/>
<circle cx="312.8" cy="188.4" r="1.2" fill="#ec0c18"/>
<circle cx="312.8" cy="174.6" r="1.2" fill="#ec0c18"/>
<circle cx="312" cy="171.5" r="1.2" fill="#ec0c18"/>
<circle cx="315.1" cy="170.8" r="1.2" fill="#ec0c18"/>
<circle cx="443.8" cy="25.3" r="1.2" fill="#ec0c18"/>
<circle cx="439.6" cy="29.4" r="1.2" fill="#ec0c18"/>
<circle cx="436.8" cy="34.1" r="1.2" fill="#ec0c18"/>
<circle cx="437.7" cy="37.9" r="1.2" fill="#ec0c18"/>
<circle cx="433" cy="37.9" r="1.2" fill="#ec0c18"/>
<circle cx="436.8" cy="52" r="1.2" fill="#ec0c18"/>
<circle cx="432.1" cy="55.8" r="1.2" fill="#ec0c18"/>
<circle cx="441.5" cy="49.2" r="1.2" fill="#ec0c18"/>
<circle cx="444.3" cy="44.5" r="1.2" fill="#ec0c18"/>
<circle cx="447.2" cy="42.6" r="1.2" fill="#ec0c18"/>
<circle cx="449" cy="40.7" r="1.2" fill="#ec0c18"/>
<circle cx="446.2" cy="46.3" r="1.2" fill="#ec0c18"/>
<circle cx="419.9" cy="53.9" r="1.2" fill="#ec0c18"/>
<circle cx="425.5" cy="61.4" r="1.2" fill="#ec0c18"/>
<circle cx="419.9" cy="63.3" r="1.2" fill="#ec0c18"/>
<circle cx="413.3" cy="65.2" r="1.2" fill="#ec0c18"/>
<circle cx="409.5" cy="73.6" r="1.2" fill="#ec0c18"/>
<circle cx="410.5" cy="79.3" r="1.2" fill="#ec0c18"/>
<circle cx="414.2" cy="78.3" r="1.2" fill="#ec0c18"/>
<circle cx="402" cy="80.2" r="1.2" fill="#ec0c18"/>
<circle cx="400.1" cy="84" r="1.2" fill="#ec0c18"/>
<circle cx="396.3" cy="84" r="1.2" fill="#ec0c18"/>
<circle cx="395.4" cy="86.8" r="1.2" fill="#ec0c18"/>
<circle cx="393.5" cy="92.5" r="1.2" fill="#ec0c18"/>
<circle cx="389.8" cy="92.5" r="1.2" fill="#ec0c18"/>
<circle cx="387.9" cy="93.4" r="1.2" fill="#ec0c18"/>
<circle cx="388.8" cy="98.1" r="1.2" fill="#ec0c18"/>
<circle cx="385.1" cy="99" r="1.2" fill="#ec0c18"/>
<circle cx="383.2" cy="102.8" r="1.2" fill="#ec0c18"/>
<circle cx="381.3" cy="105.6" r="1.2" fill="#ec0c18"/>
<circle cx="381.3" cy="97.2" r="1.2" fill="#ec0c18"/>
<circle cx="377.5" cy="106.6" r="1.2" fill="#ec0c18"/>
<circle cx="374.7" cy="110.3" r="1.2" fill="#ec0c18"/>
<circle cx="371.9" cy="110.3" r="1.2" fill="#ec0c18"/>
<circle cx="370.9" cy="97.2" r="1.2" fill="#ec0c18"/>
<circle cx="371.9" cy="95.3" r="1.2" fill="#ec0c18"/>
<circle cx="376.6" cy="113.1" r="1.2" fill="#ec0c18"/>
<circle cx="378.5" cy="116" r="1.2" fill="#ec0c18"/>
<circle cx="372.8" cy="116.9" r="1.2" fill="#ec0c18"/>
<circle cx="371.9" cy="121.6" r="1.2" fill="#ec0c18"/>
<circle cx="392.6" cy="94.3" r="1.2" fill="#ec0c18"/>
<circle cx="395.4" cy="94.3" r="1.2" fill="#ec0c18"/>
<circle cx="398.2" cy="87.7" r="1.2" fill="#ec0c18"/>
<circle cx="392.6" cy="100.9" r="1.2" fill="#ec0c18"/>
<circle cx="391.6" cy="102.8" r="1.2" fill="#ec0c18"/>
<circle cx="386.9" cy="107.5" r="1.2" fill="#ec0c18"/>
<circle cx="383.2" cy="108.4" r="1.2" fill="#ec0c18"/>
<circle cx="407.6" cy="85.9" r="1.2" fill="#ec0c18"/>
<circle cx="355.8" cy="124.5" r="1.2" fill="#ec0c18"/>
<circle cx="357.5" cy="121" r="1.2" fill="#ec0c18"/>
<circle cx="359.4" cy="117" r="1.2" fill="#ec0c18"/>
<circle cx="361.5" cy="113.5" r="1.2" fill="#ec0c18"/>
<circle cx="363.4" cy="110.3" r="1.2" fill="#ec0c18"/>
<circle cx="365.5" cy="107.5" r="1.2" fill="#ec0c18"/>
<circle cx="367.8" cy="106" r="1.2" fill="#ec0c18"/>
<circle cx="369.6" cy="101" r="1.2" fill="#ec0c18"/>
<circle cx="371.7" cy="96" r="1.2" fill="#ec0c18"/>
<circle cx="370.5" cy="98.5" r="1.2" fill="#ec0c18"/>
<circle cx="364.2" cy="118" r="1.2" fill="#ec0c18"/>
<circle cx="360.2" cy="126.5" r="1.2" fill="#ec0c18"/>
<circle cx="363.6" cy="142.3" r="1.2" fill="#ec0c18"/>
<circle cx="365.1" cy="151.4" r="1.2" fill="#ec0c18"/>
<circle cx="356" cy="160.6" r="1.2" fill="#ec0c18"/>
<circle cx="352.9" cy="163.7" r="1.2" fill="#ec0c18"/>
<circle cx="346.8" cy="170.6" r="1.2" fill="#ec0c18"/>
<circle cx="346" cy="174.4" r="1.2" fill="#ec0c18"/>
<circle cx="350.6" cy="171.3" r="1.2" fill="#ec0c18"/>
<circle cx="330" cy="181" r="1.2" fill="#ec0c18"/>
<circle cx="333" cy="176.5" r="1.2" fill="#ec0c18"/>
<circle cx="326" cy="189" r="1.2" fill="#ec0c18"/>
<circle cx="322" cy="190.5" r="1.2" fill="#ec0c18"/>
<circle cx="320" cy="194" r="1.2" fill="#ec0c18"/>
<circle cx="324" cy="183" r="1.2" fill="#ec0c18"/>
<circle cx="341.67" cy="147.26" r="1.2" fill="#ec0c18"/>
<circle cx="326.79" cy="174.96" r="1.2" fill="#ec0c18"/>
<circle cx="354.22" cy="144.84" r="1.2" fill="#ec0c18"/>
<circle cx="375" cy="110.06" r="1.2" fill="#ec0c18"/>
<circle cx="363.5" cy="132.58" r="1.2" fill="#ec0c18"/>
<circle cx="314.99" cy="200.6" r="1.2" fill="#ec0c18"/>
<circle cx="315.04" cy="189.75" r="1.2" fill="#ec0c18"/>
<circle cx="306.33" cy="203.5" r="1.2" fill="#ec0c18"/>
<circle cx="352.98" cy="154.22" r="1.2" fill="#ec0c18"/>
<circle cx="325.02" cy="185.57" r="1.2" fill="#ec0c18"/>
<circle cx="335.19" cy="165.59" r="1.2" fill="#ec0c18"/>
<circle cx="309.43" cy="202.65" r="1.2" fill="#ec0c18"/>
<circle cx="368.71" cy="126.65" r="1.2" fill="#ec0c18"/>
<circle cx="341.3" cy="153.46" r="1.2" fill="#ec0c18"/>
<circle cx="320.09" cy="183.58" r="1.2" fill="#ec0c18"/>
<circle cx="369.11" cy="137.75" r="1.2" fill="#ec0c18"/>
<circle cx="345.71" cy="154.67" r="1.2" fill="#ec0c18"/>
<circle cx="309.32" cy="201.82" r="1.2" fill="#ec0c18"/>
<circle cx="368.17" cy="123.42" r="1.2" fill="#ec0c18"/>
<circle cx="318.31" cy="178.5" r="1.2" fill="#ec0c18"/>
<circle cx="314.1" cy="188.7" r="1.2" fill="#ec0c18"/>
<circle cx="341.64" cy="161.54" r="1.2" fill="#ec0c18"/>
<circle cx="313.69" cy="194.96" r="1.2" fill="#ec0c18"/>
<circle cx="375.01" cy="127.66" r="1.2" fill="#ec0c18"/>
<circle cx="323.38" cy="179.17" r="1.2" fill="#ec0c18"/>
<circle cx="351.01" cy="148.3" r="1.2" fill="#ec0c18"/>
<circle cx="344.98" cy="150.24" r="1.2" fill="#ec0c18"/>
<circle cx="361.09" cy="140.45" r="1.2" fill="#ec0c18"/>
<circle cx="335.57" cy="167.99" r="1.2" fill="#ec0c18"/>
<circle cx="310.87" cy="191.81" r="1.2" fill="#ec0c18"/>
<circle cx="313.2" cy="199.95" r="1.2" fill="#ec0c18"/>
<circle cx="339.5" cy="162.12" r="1.2" fill="#ec0c18"/>
<circle cx="325.24" cy="187.92" r="1.2" fill="#ec0c18"/>
<circle cx="348.77" cy="160.18" r="1.2" fill="#ec0c18"/>
<circle cx="311" cy="199.64" r="1.2" fill="#ec0c18"/>
<circle cx="372.91" cy="116.6" r="1.2" fill="#ec0c18"/>
<circle cx="331.27" cy="168.85" r="1.2" fill="#ec0c18"/>
<circle cx="347.41" cy="149.39" r="1.2" fill="#ec0c18"/>
<circle cx="357.13" cy="131.92" r="1.2" fill="#ec0c18"/>
<circle cx="336.92" cy="177.38" r="1.2" fill="#ec0c18"/>
<circle cx="364.98" cy="131.34" r="1.2" fill="#ec0c18"/>
<circle cx="331.09" cy="165.95" r="1.2" fill="#ec0c18"/>
<circle cx="368.8" cy="130.2" r="1.2" fill="#ec0c18"/>
<circle cx="339.97" cy="155.91" r="1.2" fill="#ec0c18"/>
<circle cx="368.73" cy="126.16" r="1.2" fill="#ec0c18"/>
<circle cx="324.37" cy="190.32" r="1.2" fill="#ec0c18"/>
<circle cx="368.41" cy="130.8" r="1.2" fill="#ec0c18"/>
<circle cx="355.63" cy="134.93" r="1.2" fill="#ec0c18"/>
<circle cx="323.16" cy="176.95" r="1.2" fill="#ec0c18"/>
<circle cx="345.1" cy="158.76" r="1.2" fill="#ec0c18"/>
<circle cx="333.97" cy="170.85" r="1.2" fill="#ec0c18"/>
<circle cx="338.2" cy="162.81" r="1.2" fill="#ec0c18"/>
<circle cx="352.81" cy="147.75" r="1.2" fill="#ec0c18"/>
<circle cx="339.99" cy="162.54" r="1.2" fill="#ec0c18"/>
<circle cx="330.06" cy="179.42" r="1.2" fill="#ec0c18"/>
<circle cx="317.93" cy="201.09" r="1.2" fill="#ec0c18"/>
<circle cx="373.45" cy="126.91" r="1.2" fill="#ec0c18"/>
<circle cx="350.59" cy="153.46" r="1.2" fill="#ec0c18"/>
<circle cx="361.2" cy="131.67" r="1.2" fill="#ec0c18"/>
<circle cx="316.86" cy="190.23" r="1.2" fill="#ec0c18"/>
<circle cx="368.66" cy="119.48" r="1.2" fill="#ec0c18"/>
<circle cx="307.49" cy="202.62" r="1.2" fill="#ec0c18"/>
<circle cx="340.86" cy="158.16" r="1.2" fill="#ec0c18"/>
<circle cx="372.27" cy="127.32" r="1.2" fill="#ec0c18"/>
<circle cx="322.74" cy="183.23" r="1.2" fill="#ec0c18"/>
<circle cx="324.68" cy="192.62" r="1.2" fill="#ec0c18"/>
<circle cx="361.97" cy="140.28" r="1.2" fill="#ec0c18"/>
<circle cx="330.19" cy="169.2" r="1.2" fill="#ec0c18"/>
<circle cx="303.49" cy="212.94" r="1.2" fill="#ec0c18"/>
<circle cx="302.37" cy="212.19" r="1.2" fill="#ec0c18"/>
<circle cx="338.88" cy="152.83" r="1.2" fill="#ec0c18"/>
<circle cx="371.11" cy="131.18" r="1.2" fill="#ec0c18"/>
<circle cx="317.28" cy="177.43" r="1.2" fill="#ec0c18"/>
<circle cx="323.86" cy="185.01" r="1.2" fill="#ec0c18"/>
<circle cx="316.47" cy="172.43" r="1.2" fill="#ec0c18"/>
<circle cx="364.01" cy="125.81" r="1.2" fill="#ec0c18"/>
<circle cx="314.72" cy="187.47" r="1.2" fill="#ec0c18"/>
<circle cx="367.1" cy="132.16" r="1.2" fill="#ec0c18"/>
<circle cx="348.8" cy="146.09" r="1.2" fill="#ec0c18"/>
<circle cx="316.17" cy="181.33" r="1.2" fill="#ec0c18"/>
<circle cx="309.85" cy="184.65" r="1.2" fill="#ec0c18"/>
<circle cx="355.71" cy="133.35" r="1.2" fill="#ec0c18"/>
<circle cx="366.35" cy="142.09" r="1.2" fill="#ec0c18"/>
<circle cx="354.77" cy="147.25" r="1.2" fill="#ec0c18"/>
<circle cx="371.4" cy="131.14" r="1.2" fill="#ec0c18"/>
<circle cx="334.94" cy="164.82" r="1.2" fill="#ec0c18"/>
<circle cx="324.73" cy="173.29" r="1.2" fill="#ec0c18"/>
<circle cx="354.58" cy="141.76" r="1.2" fill="#ec0c18"/>
<circle cx="319.42" cy="180.54" r="1.2" fill="#ec0c18"/>
<circle cx="351.18" cy="145.49" r="1.2" fill="#ec0c18"/>
<circle cx="350.99" cy="137.44" r="1.2" fill="#ec0c18"/>
<circle cx="367.45" cy="122.83" r="1.2" fill="#ec0c18"/>
<circle cx="324.27" cy="168.69" r="1.2" fill="#ec0c18"/>
<circle cx="370.58" cy="121.08" r="1.2" fill="#ec0c18"/>
<circle cx="349.35" cy="140.77" r="1.2" fill="#ec0c18"/>
<circle cx="308.66" cy="194.9" r="1.2" fill="#ec0c18"/>
<circle cx="341.09" cy="153.33" r="1.2" fill="#ec0c18"/>
<circle cx="341.28" cy="163.03" r="1.2" fill="#ec0c18"/>
<circle cx="323.06" cy="175.3" r="1.2" fill="#ec0c18"/>
<circle cx="320.57" cy="176.17" r="1.2" fill="#ec0c18"/>
<circle cx="323.1" cy="169.77" r="1.2" fill="#ec0c18"/>
<circle cx="357.92" cy="137.02" r="1.2" fill="#ec0c18"/>
<circle cx="342.56" cy="158.29" r="1.2" fill="#ec0c18"/>
<circle cx="315.79" cy="196.66" r="1.2" fill="#ec0c18"/>
<circle cx="304.49" cy="179.17" r="1.2" fill="#ec0c18"/>
<circle cx="336.16" cy="159.22" r="1.2" fill="#ec0c18"/>
<circle cx="370.77" cy="116.79" r="1.2" fill="#ec0c18"/>
<circle cx="338.99" cy="160.09" r="1.2" fill="#ec0c18"/>
<circle cx="349.73" cy="153.34" r="1.2" fill="#ec0c18"/>
<circle cx="328.61" cy="160.27" r="1.2" fill="#ec0c18"/>
<circle cx="340.24" cy="144.75" r="1.2" fill="#ec0c18"/>
<circle cx="339.42" cy="161.85" r="1.2" fill="#ec0c18"/>
<circle cx="340.52" cy="145.95" r="1.2" fill="#ec0c18"/>
<circle cx="372.41" cy="127.6" r="1.2" fill="#ec0c18"/>
<circle cx="314.22" cy="192.51" r="1.2" fill="#ec0c18"/>
<circle cx="347" cy="148.77" r="1.2" fill="#ec0c18"/>
<circle cx="359.2" cy="143.06" r="1.2" fill="#ec0c18"/>
<circle cx="360.21" cy="135.84" r="1.2" fill="#ec0c18"/>
<circle cx="338.19" cy="152.14" r="1.2" fill="#ec0c18"/>
<circle cx="318.37" cy="170.23" r="1.2" fill="#ec0c18"/>
<circle cx="304.61" cy="187.59" r="1.2" fill="#ec0c18"/>
<circle cx="346.17" cy="146.92" r="1.2" fill="#ec0c18"/>
<circle cx="366.59" cy="119.07" r="1.2" fill="#ec0c18"/>
<circle cx="315.32" cy="181.34" r="1.2" fill="#ec0c18"/>
<circle cx="338.71" cy="157.66" r="1.2" fill="#ec0c18"/>
<circle cx="334.16" cy="156.14" r="1.2" fill="#ec0c18"/>
<circle cx="361.09" cy="135.58" r="1.2" fill="#ec0c18"/>
<circle cx="307.37" cy="196.31" r="1.2" fill="#ec0c18"/>
<circle cx="342.2" cy="148" r="1.2" fill="#ec0c18"/>
<circle cx="360.58" cy="134.44" r="1.2" fill="#ec0c18"/>
<circle cx="325.01" cy="174.55" r="1.2" fill="#ec0c18"/>
<circle cx="305.13" cy="187.19" r="1.2" fill="#ec0c18"/>
<circle cx="340.88" cy="163.31" r="1.2" fill="#ec0c18"/>
<circle cx="321.59" cy="171.58" r="1.2" fill="#ec0c18"/>
<circle cx="362.72" cy="130.35" r="1.2" fill="#ec0c18"/>
<circle cx="314.7" cy="181.08" r="1.2" fill="#ec0c18"/>
<circle cx="353.11" cy="145.93" r="1.2" fill="#ec0c18"/>
<circle cx="363.49" cy="131.73" r="1.2" fill="#ec0c18"/>
<circle cx="332.39" cy="160.64" r="1.2" fill="#ec0c18"/>
<circle cx="328.97" cy="170.47" r="1.2" fill="#ec0c18"/>
<circle cx="245.5" cy="260.6" r="1.2" fill="#0c0cec"/>
<circle cx="264.2" cy="225" r="1.2" fill="#0c0cec"/>
<circle cx="265.5" cy="226.5" r="1.2" fill="#0c0cec"/>
<circle cx="266.8" cy="225.8" r="1.2" fill="#0c0cec"/>
<circle cx="267.5" cy="227.5" r="1.2" fill="#0c0cec"/>
<circle cx="270.8" cy="221.6" r="1.2" fill="#0c0cec"/>
<circle cx="274.1" cy="217.6" r="1.2" fill="#0c0cec"/>
<circle cx="278" cy="225.5" r="1.2" fill="#0c0cec"/>
<circle cx="282.6" cy="217" r="1.2" fill="#0c0cec"/>
<circle cx="286.5" cy="215.7" r="1.2" fill="#0c0cec"/>
<circle cx="264.5" cy="226.7" r="1.2" fill="#0c0cec"/>
<circle cx="266.1" cy="225.1" r="1.2" fill="#0c0cec"/>
<circle cx="267.6" cy="224.4" r="1.2" fill="#0c0cec"/>
<circle cx="269.9" cy="222.1" r="1.2" fill="#0c0cec"/>
<circle cx="272.2" cy="221.3" r="1.2" fill="#0c0cec"/>
<circle cx="274.5" cy="219.8" r="1.2" fill="#0c0cec"/>
<circle cx="277.6" cy="214.4" r="1.2" fill="#0c0cec"/>
<circle cx="278.3" cy="213.6" r="1.2" fill="#0c0cec"/>
<circle cx="279.9" cy="212.1" r="1.2" fill="#0c0cec"/>
<circle cx="282.2" cy="210.6" r="1.2" fill="#0c0cec"/>
<circle cx="284.5" cy="210.1" r="1.2" fill="#0c0cec"/>
<circle cx="286.8" cy="210.6" r="1.2" fill="#0c0cec"/>
<circle cx="288.3" cy="208.3" r="1.2" fill="#0c0cec"/>
<circle cx="290.6" cy="207.5" r="1.2" fill="#0c0cec"/>
<circle cx="292.1" cy="200.6" r="1.2" fill="#0c0cec"/>
<circle cx="286.8" cy="205.2" r="1.2" fill="#0c0cec"/>
<circle cx="294.4" cy="209" r="1.2" fill="#0c0cec"/>
<circle cx="295.9" cy="211.3" r="1.2" fill="#0c0cec"/>
<circle cx="297.5" cy="209" r="1.2" fill="#0c0cec"/>
<circle cx="299" cy="206" r="1.2" fill="#0c0cec"/>
<circle cx="299.8" cy="202.2" r="1.2" fill="#0c0cec"/>
<circle cx="300.5" cy="198.3" r="1.2" fill="#0c0cec"/>
<circle cx="302.8" cy="196" r="1.2" fill="#0c0cec"/>
<circle cx="304.4" cy="193" r="1.2" fill="#0c0cec"/>
<circle cx="303.6" cy="189.9" r="1.2" fill="#0c0cec"/>
<circle cx="305.1" cy="191.4" r="1.2" fill="#0c0cec"/>
<circle cx="306.7" cy="188.4" r="1.2" fill="#0c0cec"/>
<circle cx="307.4" cy="185.3" r="1.2" fill="#0c0cec"/>
<circle cx="308.2" cy="182.3" r="1.2" fill="#0c0cec"/>
<circle cx="309.7" cy="179.2" r="1.2" fill="#0c0cec"/>
<circle cx="311.3" cy="176.1" r="1.2" fill="#0c0cec"/>
<circle cx="312.8" cy="173.1" r="1.2" fill="#0c0cec"/>
<circle cx="314.3" cy="170" r="1.2" fill="#0c0cec"/>
<circle cx="305.1" cy="220.5" r="1.2" fill="#0c0cec"/>
<circle cx="304.4" cy="214.4" r="1.2" fill="#0c0cec"/>
<circle cx="277.6" cy="225.9" r="1.2" fill="#0c0cec"/>
<circle cx="288.3" cy="212.9" r="1.2" fill="#0c0cec"/>
<circle cx="282.9" cy="215.2" r="1.2" fill="#0c0cec"/>
<circle cx="285.2" cy="216" r="1.2" fill="#0c0cec"/>
<circle cx="291.3" cy="214.4" r="1.2" fill="#0c0cec"/>
<circle cx="295.2" cy="216.7" r="1.2" fill="#0c0cec"/>
<circle cx="300.5" cy="206" r="1.2" fill="#0c0cec"/>
<circle cx="302.8" cy="204.5" r="1.2" fill="#0c0cec"/>
<circle cx="305.9" cy="206.8" r="1.2" fill="#0c0cec"/>
<circle cx="306.7" cy="201.4" r="1.2" fill="#0c0cec"/>
<circle cx="303.6" cy="200.6" r="1.2" fill="#0c0cec"/>
<circle cx="309.7" cy="197.6" r="1.2" fill="#0c0cec"/>
<circle cx="310.5" cy="189.9" r="1.2" fill="#0c0cec"/>
<circle cx="312" cy="185.3" r="1.2" fill="#0c0cec"/>
<circle cx="314.3" cy="186.8" r="1.2" fill="#0c0cec"/>
<circle cx="315.8" cy="183.8" r="1.2" fill="#0c0cec"/>
<circle cx="317.4" cy="180.7" r="1.2" fill="#0c0cec"/>
<circle cx="314.3" cy="179.2" r="1.2" fill="#0c0cec"/>
<circle cx="315.8" cy="176.1" r="1.2" fill="#0c0cec"/>
<circle cx="318.1" cy="174.6" r="1.2" fill="#0c0cec"/>
<circle cx="450" cy="36.9" r="1.2" fill="#0c0cec"/>
<circle cx="448.1" cy="39.8" r="1.2" fill="#0c0cec"/>
<circle cx="445.3" cy="40.7" r="1.2" fill="#0c0cec"/>
<circle cx="443.4" cy="43.5" r="1.2" fill="#0c0cec"/>
<circle cx="441.5" cy="45.4" r="1.2" fill="#0c0cec"/>
<circle cx="439.6" cy="46.3" r="1.2" fill="#0c0cec"/>
<circle cx="436.8" cy="49.2" r="1.2" fill="#0c0cec"/>
<circle cx="433" cy="52" r="1.2" fill="#0c0cec"/>
<circle cx="432.1" cy="53.9" r="1.2" fill="#0c0cec"/>
<circle cx="425.5" cy="58.6" r="1.2" fill="#0c0cec"/>
<circle cx="419.9" cy="63.3" r="1.2" fill="#0c0cec"/>
<circle cx="436.8" cy="57.6" r="1.2" fill="#0c0cec"/>
<circle cx="435.9" cy="60.5" r="1.2" fill="#0c0cec"/>
<circle cx="443.4" cy="52" r="1.2" fill="#0c0cec"/>
<circle cx="410.5" cy="72.7" r="1.2" fill="#0c0cec"/>
<circle cx="420.8" cy="73.6" r="1.2" fill="#0c0cec"/>
<circle cx="414.2" cy="81.2" r="1.2" fill="#0c0cec"/>
<circle cx="402" cy="80.2" r="1.2" fill="#0c0cec"/>
<circle cx="403.9" cy="81.2" r="1.2" fill="#0c0cec"/>
<circle cx="394.5" cy="87.7" r="1.2" fill="#0c0cec"/>
<circle cx="400.1" cy="90.6" r="1.2" fill="#0c0cec"/>
<circle cx="403.9" cy="90.6" r="1.2" fill="#0c0cec"/>
<circle cx="415.2" cy="95.3" r="1.2" fill="#0c0cec"/>
<circle cx="417" cy="93.4" r="1.2" fill="#0c0cec"/>
<circle cx="411.4" cy="96.2" r="1.2" fill="#0c0cec"/>
<circle cx="408.6" cy="100.9" r="1.2" fill="#0c0cec"/>
<circle cx="402.9" cy="100.9" r="1.2" fill="#0c0cec"/>
<circle cx="403.9" cy="103.7" r="1.2" fill="#0c0cec"/>
<circle cx="399.2" cy="106.6" r="1.2" fill="#0c0cec"/>
<circle cx="394.5" cy="99" r="1.2" fill="#0c0cec"/>
<circle cx="391.6" cy="100.9" r="1.2" fill="#0c0cec"/>
<circle cx="388.8" cy="103.7" r="1.2" fill="#0c0cec"/>
<circle cx="390.7" cy="107.5" r="1.2" fill="#0c0cec"/>
<circle cx="386.9" cy="110.3" r="1.2" fill="#0c0cec"/>
<circle cx="388.8" cy="113.1" r="1.2" fill="#0c0cec"/>
<circle cx="384.1" cy="114.1" r="1.2" fill="#0c0cec"/>
<circle cx="385.1" cy="108.4" r="1.2" fill="#0c0cec"/>
<circle cx="382.2" cy="112.2" r="1.2" fill="#0c0cec"/>
<circle cx="380.3" cy="117.9" r="1.2" fill="#0c0cec"/>
<circle cx="378.5" cy="119.7" r="1.2" fill="#0c0cec"/>
<circle cx="377.5" cy="122.6" r="1.2" fill="#0c0cec"/>
<circle cx="381.3" cy="125.4" r="1.2" fill="#0c0cec"/>
<circle cx="380.3" cy="128.2" r="1.2" fill="#0c0cec"/>
<circle cx="375.6" cy="127.3" r="1.2" fill="#0c0cec"/>
<circle cx="371.9" cy="110.3" r="1.2" fill="#0c0cec"/>
<circle cx="372.8" cy="117.9" r="1.2" fill="#0c0cec"/>
<circle cx="396.3" cy="98.1" r="1.2" fill="#0c0cec"/>
<circle cx="394.5" cy="102.8" r="1.2" fill="#0c0cec"/>
<circle cx="398.2" cy="101.9" r="1.2" fill="#0c0cec"/>
<circle cx="372.6" cy="136" r="1.2" fill="#0c0cec"/>
<circle cx="368.4" cy="141.5" r="1.2" fill="#0c0cec"/>
<circle cx="376" cy="140" r="1.2" fill="#0c0cec"/>
<circle cx="371.5" cy="146" r="1.2" fill="#0c0cec"/>
<circle cx="366" cy="150.5" r="1.2" fill="#0c0cec"/>
<circle cx="361.5" cy="156" r="1.2" fill="#0c0cec"/>
<circle cx="358" cy="165" r="1.2" fill="#0c0cec"/>
<circle cx="355" cy="158" r="1.2" fill="#0c0cec"/>
<circle cx="319.64" cy="172.14" r="1.2" fill="#0c0cec"/>
<circle cx="329.05" cy="165.71" r="1.2" fill="#0c0cec"/>
<circle cx="328.13" cy="166.49" r="1.2" fill="#0c0cec"/>
<circle cx="317.84" cy="176.89" r="1.2" fill="#0c0cec"/>
<circle cx="354.99" cy="141.1" r="1.2" fill="#0c0cec"/>
<circle cx="375.85" cy="116.77" r="1.2" fill="#0c0cec"/>
<circle cx="350.16" cy="144.73" r="1.2" fill="#0c0cec"/>
<circle cx="346.74" cy="150.38" r="1.2" fill="#0c0cec"/>
<circle cx="347.85" cy="151.31" r="1.2" fill="#0c0cec"/>
<circle cx="347.52" cy="149.83" r="1.2" fill="#0c0cec"/>
<circle cx="342.99" cy="147.44" r="1.2" fill="#0c0cec"/>
<circle cx="340.35" cy="151.82" r="1.2" fill="#0c0cec"/>
<circle cx="364.09" cy="144.43" r="1.2" fill="#0c0cec"/>
<circle cx="331.55" cy="163.87" r="1.2" fill="#0c0cec"/>
<circle cx="354.83" cy="139.97" r="1.2" fill="#0c0cec"/>
<circle cx="335.96" cy="154.67" r="1.2" fill="#0c0cec"/>
<circle cx="364.53" cy="132.47" r="1.2" fill="#0c0cec"/>
<circle cx="341.14" cy="153.6" r="1.2" fill="#0c0cec"/>
<circle cx="336.64" cy="163.51" r="1.2" fill="#0c0cec"/>
<circle cx="328.73" cy="168.94" r="1.2" fill="#0c0cec"/>
<circle cx="329.65" cy="174.78" r="1.2" fill="#0c0cec"/>
<circle cx="319.32" cy="176.02" r="1.2" fill="#0c0cec"/>
<circle cx="350.54" cy="144.71" r="1.2" fill="#0c0cec"/>
<circle cx="337.82" cy="154.41" r="1.2" fill="#0c0cec"/>
<circle cx="320.12" cy="176.03" r="1.2" fill="#0c0cec"/>
<circle cx="319.22" cy="173.51" r="1.2" fill="#0c0cec"/>
<circle cx="348.97" cy="153.01" r="1.2" fill="#0c0cec"/>
<circle cx="341.07" cy="155.82" r="1.2" fill="#0c0cec"/>
<circle cx="339.54" cy="158.9" r="1.2" fill="#0c0cec"/>
<circle cx="331.37" cy="166.51" r="1.2" fill="#0c0cec"/>
<circle cx="344.44" cy="150.73" r="1.2" fill="#0c0cec"/>
<circle cx="334.39" cy="162.14" r="1.2" fill="#0c0cec"/>
<circle cx="347.32" cy="147.49" r="1.2" fill="#0c0cec"/>
<circle cx="361.26" cy="122.78" r="1.2" fill="#0c0cec"/>
<circle cx="353.79" cy="133.08" r="1.2" fill="#0c0cec"/>
<circle cx="334.12" cy="165.98" r="1.2" fill="#0c0cec"/>
<circle cx="327.47" cy="175.18" r="1.2" fill="#0c0cec"/>
<circle cx="343.11" cy="141.61" r="1.2" fill="#0c0cec"/>
<circle cx="368.61" cy="122.73" r="1.2" fill="#0c0cec"/>
<circle cx="338.13" cy="157.61" r="1.2" fill="#0c0cec"/>
<circle cx="326.78" cy="169.03" r="1.2" fill="#0c0cec"/>
<circle cx="327.93" cy="169.66" r="1.2" fill="#0c0cec"/>
<circle cx="330.54" cy="167.49" r="1.2" fill="#0c0cec"/>
<circle cx="362.09" cy="132.82" r="1.2" fill="#0c0cec"/>
<circle cx="350.09" cy="149.73" r="1.2" fill="#0c0cec"/>
<circle cx="352.04" cy="141" r="1.2" fill="#0c0cec"/>
<circle cx="343.43" cy="155.76" r="1.2" fill="#0c0cec"/>
<circle cx="350.15" cy="147.95" r="1.2" fill="#0c0cec"/>
<circle cx="352.71" cy="144.65" r="1.2" fill="#0c0cec"/>
<circle cx="372.79" cy="117.56" r="1.2" fill="#0c0cec"/>
<circle cx="329.66" cy="166.08" r="1.2" fill="#0c0cec"/>
<circle cx="347.48" cy="152.6" r="1.2" fill="#0c0cec"/>
<circle cx="313.32" cy="178.64" r="1.2" fill="#0c0cec"/>
<circle cx="341.9" cy="152.36" r="1.2" fill="#0c0cec"/>
<circle cx="316.67" cy="175.04" r="1.2" fill="#0c0cec"/>
<circle cx="342.9" cy="142.79" r="1.2" fill="#0c0cec"/>
<circle cx="355.63" cy="141.23" r="1.2" fill="#0c0cec"/>
<circle cx="319.33" cy="172.38" r="1.2" fill="#0c0cec"/>
<circle cx="337.86" cy="148.66" r="1.2" fill="#0c0cec"/>
<circle cx="365.54" cy="123.28" r="1.2" fill="#0c0cec"/>
<circle cx="337.58" cy="152.24" r="1.2" fill="#0c0cec"/>
<circle cx="336.84" cy="149.49" r="1.2" fill="#0c0cec"/>
<circle cx="357.15" cy="126.95" r="1.2" fill="#0c0cec"/>
<circle cx="343.51" cy="145.63" r="1.2" fill="#0c0cec"/>
<circle cx="347.65" cy="145.42" r="1.2" fill="#0c0cec"/>
<circle cx="313.85" cy="177.72" r="1.2" fill="#0c0cec"/>
<circle cx="336.83" cy="156.43" r="1.2" fill="#0c0cec"/>
<circle cx="369.07" cy="120.27" r="1.2" fill="#0c0cec"/>
<circle cx="355.13" cy="139.48" r="1.2" fill="#0c0cec"/>
<circle cx="324.56" cy="175.01" r="1.2" fill="#0c0cec"/>
<circle cx="339.4" cy="163.36" r="1.2" fill="#0c0cec"/>
<circle cx="332.27" cy="161.27" r="1.2" fill="#0c0cec"/>
<circle cx="338.11" cy="159.9" r="1.2" fill="#0c0cec"/>
<circle cx="335.83" cy="150.29" r="1.2" fill="#0c0cec"/>
<circle cx="342.37" cy="154.4" r="1.2" fill="#0c0cec"/>
<circle cx="357.14" cy="130.21" r="1.2" fill="#0c0cec"/>
<circle cx="370.9" cy="122.63" r="1.2" fill="#0c0cec"/>
<circle cx="352.2" cy="141.78" r="1.2" fill="#0c0cec"/>
<circle cx="353.23" cy="137.74" r="1.2" fill="#0c0cec"/>
<circle cx="335.05" cy="166.16" r="1.2" fill="#0c0cec"/>
<circle cx="316.17" cy="180.15" r="1.2" fill="#0c0cec"/>
<circle cx="314.57" cy="181.32" r="1.2" fill="#0c0cec"/>
<circle cx="347.38" cy="144.49" r="1.2" fill="#0c0cec"/>
<circle cx="364.8" cy="132.35" r="1.2" fill="#0c0cec"/>
<circle cx="354.96" cy="140.89" r="1.2" fill="#0c0cec"/>
<circle cx="337.25" cy="163.24" r="1.2" fill="#0c0cec"/>
<circle cx="349.91" cy="140.39" r="1.2" fill="#0c0cec"/>
<circle cx="371.42" cy="118.05" r="1.2" fill="#0c0cec"/>
<circle cx="324.36" cy="168.2" r="1.2" fill="#0c0cec"/>
<circle cx="346.17" cy="141.88" r="1.2" fill="#0c0cec"/>
<circle cx="348.3" cy="145.7" r="1.2" fill="#0c0cec"/>
<circle cx="344.27" cy="154.21" r="1.2" fill="#0c0cec"/>
<circle cx="358.88" cy="129.54" r="1.2" fill="#0c0cec"/>
<circle cx="317.41" cy="182.55" r="1.2" fill="#0c0cec"/>
<circle cx="356.79" cy="140.7" r="1.2" fill="#0c0cec"/>
<circle cx="368.42" cy="128.97" r="1.2" fill="#0c0cec"/>
<circle cx="322.59" cy="168.99" r="1.2" fill="#0c0cec"/>
<circle cx="370.54" cy="117.48" r="1.2" fill="#0c0cec"/>
<circle cx="348.94" cy="144.22" r="1.2" fill="#0c0cec"/>
<circle cx="356.5" cy="130.2" r="1.2" fill="#0c0cec"/>
<circle cx="372.24" cy="114.75" r="1.2" fill="#0c0cec"/>
<circle cx="345.29" cy="150.26" r="1.2" fill="#0c0cec"/>
<circle cx="365.06" cy="125.48" r="1.2" fill="#0c0cec"/>
<circle cx="356.23" cy="140.36" r="1.2" fill="#0c0cec"/>
<circle cx="346.59" cy="143.17" r="1.2" fill="#0c0cec"/>
<circle cx="346.59" cy="146.57" r="1.2" fill="#0c0cec"/>
<circle cx="322.72" cy="168.72" r="1.2" fill="#0c0cec"/>
<circle cx="363.19" cy="133.98" r="1.2" fill="#0c0cec"/>
<circle cx="364.08" cy="134.12" r="1.2" fill="#0c0cec"/>
<circle cx="370.64" cy="113.09" r="1.2" fill="#0c0cec"/>
<circle cx="346.36" cy="149.14" r="1.2" fill="#0c0cec"/>
<circle cx="359.44" cy="134.02" r="1.2" fill="#0c0cec"/>
<circle cx="328.02" cy="170.03" r="1.2" fill="#0c0cec"/>
<circle cx="332.21" cy="156.79" r="1.2" fill="#0c0cec"/>
<circle cx="324.91" cy="175.74" r="1.2" fill="#0c0cec"/>
<circle cx="372.04" cy="116.47" r="1.2" fill="#0c0cec"/>
<circle cx="342.63" cy="147.22" r="1.2" fill="#0c0cec"/>
<circle cx="313.72" cy="180.6" r="1.2" fill="#0c0cec"/>
<circle cx="343.99" cy="144.54" r="1.2" fill="#0c0cec"/>
<circle cx="357.61" cy="130.26" r="1.2" fill="#0c0cec"/>
<circle cx="346.03" cy="144.35" r="1.2" fill="#0c0cec"/>
<circle cx="369.25" cy="123.7" r="1.2" fill="#0c0cec"/>
<circle cx="338.84" cy="156.32" r="1.2" fill="#0c0cec"/>
<circle cx="355.35" cy="130.75" r="1.2" fill="#0c0cec"/>
<circle cx="341.79" cy="155.41" r="1.2" fill="#0c0cec"/>
<circle cx="369.37" cy="129.64" r="1.2" fill="#0c0cec"/>
<circle cx="360.16" cy="135.11" r="1.2" fill="#0c0cec"/>
<circle cx="331.97" cy="165.82" r="1.2" fill="#0c0cec"/>
<circle cx="340.88" cy="152.5" r="1.2" fill="#0c0cec"/>
<circle cx="319.61" cy="172.49" r="1.2" fill="#0c0cec"/>
<circle cx="344.4" cy="145.82" r="1.2" fill="#0c0cec"/>
<circle cx="342.56" cy="147.71" r="1.2" fill="#0c0cec"/>
<circle cx="352.63" cy="143.48" r="1.2" fill="#0c0cec"/>
<circle cx="344.84" cy="155.48" r="1.2" fill="#0c0cec"/>
<circle cx="349.93" cy="146.47" r="1.2" fill="#0c0cec"/>
<circle cx="362.25" cy="129.53" r="1.2" fill="#0c0cec"/>
<circle cx="331.58" cy="159.61" r="1.2" fill="#0c0cec"/>
<circle cx="369.93" cy="132.84" r="1.2" fill="#0c0cec"/>
<circle cx="344.74" cy="150.34" r="1.2" fill="#0c0cec"/>
<circle cx="364.28" cy="136.35" r="1.2" fill="#0c0cec"/>
<circle cx="357.98" cy="136.85" r="1.2" fill="#0c0cec"/>
<circle cx="338.97" cy="155.5" r="1.2" fill="#0c0cec"/>
<circle cx="342.91" cy="147.95" r="1.2" fill="#0c0cec"/>
<circle cx="319.16" cy="167.71" r="1.2" fill="#0c0cec"/>
<circle cx="345.73" cy="143.92" r="1.2" fill="#0c0cec"/>
<circle cx="323.72" cy="173.25" r="1.2" fill="#0c0cec"/>
<circle cx="347.44" cy="142.34" r="1.2" fill="#0c0cec"/>
<circle cx="340.4" cy="155.97" r="1.2" fill="#0c0cec"/>
<circle cx="351.1" cy="150.23" r="1.2" fill="#0c0cec"/>
<circle cx="317.91" cy="166.63" r="1.2" fill="#0c0cec"/>
<circle cx="357.75" cy="135.14" r="1.2" fill="#0c0cec"/>
<circle cx="332.26" cy="157.74" r="1.2" fill="#0c0cec"/>
<circle cx="347.98" cy="146.02" r="1.2" fill="#0c0cec"/>
<circle cx="364.34" cy="129.37" r="1.2" fill="#0c0cec"/>
<circle cx="326.14" cy="170.94" r="1.2" fill="#0c0cec"/>
<circle cx="347.44" cy="149.5" r="1.2" fill="#0c0cec"/>
<circle cx="370.26" cy="124.57" r="1.2" fill="#0c0cec"/>
<circle cx="355.69" cy="142.45" r="1.2" fill="#0c0cec"/>
<circle cx="332.02" cy="158.91" r="1.2" fill="#0c0cec"/>
<circle cx="361.9" cy="129.37" r="1.2" fill="#0c0cec"/>
<circle cx="361.82" cy="128.7" r="1.2" fill="#0c0cec"/>
<circle cx="362.51" cy="124.25" r="1.2" fill="#0c0cec"/>
<circle cx="355.08" cy="144.29" r="1.2" fill="#0c0cec"/>
<circle cx="359.44" cy="129.23" r="1.2" fill="#0c0cec"/>
<circle cx="355.73" cy="136.05" r="1.2" fill="#0c0cec"/>
<circle cx="356.32" cy="134.32" r="1.2" fill="#0c0cec"/>
<circle cx="326.39" cy="173.44" r="1.2" fill="#0c0cec"/>
<circle cx="353.3" cy="137.88" r="1.2" fill="#0c0cec"/>
<circle cx="360.01" cy="130.15" r="1.2" fill="#0c0cec"/>
<circle cx="351.82" cy="141.77" r="1.2" fill="#0c0cec"/>
<circle cx="359.23" cy="135.92" r="1.2" fill="#0c0cec"/>
<circle cx="357.81" cy="136.38" r="1.2" fill="#0c0cec"/>
<circle cx="341.85" cy="153.64" r="1.2" fill="#0c0cec"/>
<circle cx="341.12" cy="154.95" r="1.2" fill="#0c0cec"/>
<circle cx="357.58" cy="133.76" r="1.2" fill="#0c0cec"/>
<circle cx="360.22" cy="132.9" r="1.2" fill="#0c0cec"/>
<circle cx="351.56" cy="143.51" r="1.2" fill="#0c0cec"/>
<circle cx="340.55" cy="154.26" r="1.2" fill="#0c0cec"/>
<circle cx="321.92" cy="172.03" r="1.2" fill="#0c0cec"/>
<circle cx="351.83" cy="146.91" r="1.2" fill="#0c0cec"/>
<circle cx="315.63" cy="183.89" r="1.2" fill="#0c0cec"/>
<circle cx="340.77" cy="150.69" r="1.2" fill="#0c0cec"/>
<circle cx="338.4" cy="153.37" r="1.2" fill="#0c0cec"/>
<circle cx="332.26" cy="161.96" r="1.2" fill="#0c0cec"/>
<circle cx="335.17" cy="159.75" r="1.2" fill="#0c0cec"/>
<circle cx="348.55" cy="146.11" r="1.2" fill="#0c0cec"/>
<circle cx="358.4" cy="131.71" r="1.2" fill="#0c0cec"/>
<circle cx="373.78" cy="119.39" r="1.2" fill="#0c0cec"/>
<circle cx="355.54" cy="136.32" r="1.2" fill="#0c0cec"/>
<circle cx="353.84" cy="140.03" r="1.2" fill="#0c0cec"/>
<circle cx="362.75" cy="128.84" r="1.2" fill="#0c0cec"/>
<circle cx="366.91" cy="126.12" r="1.2" fill="#0c0cec"/>
<circle cx="319.14" cy="172.87" r="1.2" fill="#0c0cec"/>
<circle cx="335.69" cy="164.05" r="1.2" fill="#0c0cec"/>
<circle cx="349.72" cy="138.94" r="1.2" fill="#0c0cec"/>
<circle cx="351.26" cy="142.78" r="1.2" fill="#0c0cec"/>
<circle cx="360.81" cy="134.31" r="1.2" fill="#0c0cec"/>
<circle cx="371.06" cy="117.8" r="1.2" fill="#0c0cec"/>
<circle cx="326.78" cy="175.01" r="1.2" fill="#0c0cec"/>
<circle cx="350.75" cy="149.55" r="1.2" fill="#0c0cec"/>
<circle cx="342.54" cy="158.47" r="1.2" fill="#0c0cec"/>
<circle cx="330.75" cy="161.01" r="1.2" fill="#0c0cec"/>
<circle cx="323.77" cy="171.48" r="1.2" fill="#0c0cec"/>
<circle cx="366.48" cy="139.31" r="1.2" fill="#0c0cec"/>
<circle cx="353.85" cy="141.79" r="1.2" fill="#0c0cec"/>
<circle cx="341.01" cy="152.35" r="1.2" fill="#0c0cec"/>
<circle cx="349.58" cy="145.71" r="1.2" fill="#0c0cec"/>
<circle cx="346.14" cy="145.7" r="1.2" fill="#0c0cec"/>
<circle cx="336.49" cy="159.3" r="1.2" fill="#0c0cec"/>
<circle cx="363.99" cy="133.88" r="1.2" fill="#0c0cec"/>
<circle cx="360.94" cy="138.5" r="1.2" fill="#0c0cec"/>
<circle cx="359.66" cy="135.6" r="1.2" fill="#0c0cec"/>
<circle cx="357.28" cy="138.51" r="1.2" fill="#0c0cec"/>
<circle cx="373.33" cy="116.82" r="1.2" fill="#0c0cec"/>
<circle cx="326.05" cy="166.97" r="1.2" fill="#0c0cec"/>
<circle cx="338.51" cy="154.99" r="1.2" fill="#0c0cec"/>
<circle cx="316.87" cy="179.87" r="1.2" fill="#0c0cec"/>
<circle cx="332.29" cy="160.77" r="1.2" fill="#0c0cec"/>
<circle cx="330.53" cy="164.74" r="1.2" fill="#0c0cec"/>
<circle cx="340.29" cy="153.55" r="1.2" fill="#0c0cec"/>
<circle cx="340.78" cy="152.94" r="1.2" fill="#0c0cec"/>
<circle cx="326.76" cy="170.8" r="1.2" fill="#0c0cec"/>
<circle cx="334.72" cy="163.27" r="1.2" fill="#0c0cec"/>
<circle cx="341.06" cy="148.4" r="1.2" fill="#0c0cec"/>
<circle cx="370.28" cy="127.55" r="1.2" fill="#0c0cec"/>
<circle cx="330.9" cy="161.76" r="1.2" fill="#0c0cec"/>
<circle cx="322.36" cy="178.63" r="1.2" fill="#0c0cec"/>
<circle cx="327.39" cy="165.1" r="1.2" fill="#0c0cec"/>
<circle cx="353.74" cy="137.36" r="1.2" fill="#0c0cec"/>
<circle cx="352.25" cy="135.28" r="1.2" fill="#0c0cec"/>
<circle cx="336.64" cy="161" r="1.2" fill="#0c0cec"/>
<circle cx="331.78" cy="163.67" r="1.2" fill="#0c0cec"/>
<circle cx="320.28" cy="179.99" r="1.2" fill="#0c0cec"/>
<circle cx="347.01" cy="137.59" r="1.2" fill="#0c0cec"/>
<circle cx="361.87" cy="127.82" r="1.2" fill="#0c0cec"/>
<circle cx="324.77" cy="168.23" r="1.2" fill="#0c0cec"/>
<circle cx="362.09" cy="135.47" r="1.2" fill="#0c0cec"/>
<circle cx="317.25" cy="176.53" r="1.2" fill="#0c0cec"/>
<circle cx="352.24" cy="140.45" r="1.2" fill="#0c0cec"/>
<circle cx="348.77" cy="152.78" r="1.2" fill="#0c0cec"/>
<circle cx="346.11" cy="144.3" r="1.2" fill="#0c0cec"/>
<circle cx="362.57" cy="130.36" r="1.2" fill="#0c0cec"/>
<circle cx="326.35" cy="167.19" r="1.2" fill="#0c0cec"/>
<circle cx="368.73" cy="118.63" r="1.2" fill="#0c0cec"/>
<circle cx="364.92" cy="133.38" r="1.2" fill="#0c0cec"/>
<circle cx="363.7" cy="138.53" r="1.2" fill="#0c0cec"/>
<circle cx="344.48" cy="143.35" r="1.2" fill="#0c0cec"/>
<circle cx="361.74" cy="128.59" r="1.2" fill="#0c0cec"/>
<circle cx="350.93" cy="142.83" r="1.2" fill="#0c0cec"/>
<circle cx="308.22" cy="188.76" r="1.2" fill="#0c0cec"/>
<circle cx="352.05" cy="139.49" r="1.2" fill="#0c0cec"/>
<circle cx="375.64" cy="117.45" r="1.2" fill="#0c0cec"/>
<circle cx="360.11" cy="136.06" r="1.2" fill="#0c0cec"/>
<circle cx="357.29" cy="138.79" r="1.2" fill="#0c0cec"/>
<circle cx="347.75" cy="146.19" r="1.2" fill="#0c0cec"/>
<circle cx="348.36" cy="148.87" r="1.2" fill="#0c0cec"/>
<circle cx="341.7" cy="147.48" r="1.2" fill="#0c0cec"/>
<circle cx="348.87" cy="148.78" r="1.2" fill="#0c0cec"/>
<circle cx="345.49" cy="145.5" r="1.2" fill="#0c0cec"/>
<circle cx="350.61" cy="139.49" r="1.2" fill="#0c0cec"/>
<circle cx="365.22" cy="122.84" r="1.2" fill="#0c0cec"/>
<circle cx="316.22" cy="176.06" r="1.2" fill="#0c0cec"/>
<circle cx="345.69" cy="150.23" r="1.2" fill="#0c0cec"/>
<circle cx="361.69" cy="128.65" r="1.2" fill="#0c0cec"/>
<circle cx="354.72" cy="137.69" r="1.2" fill="#0c0cec"/>
<circle cx="326.73" cy="180.99" r="1.2" fill="#0c0cec"/>
<circle cx="333.6" cy="162.01" r="1.2" fill="#0c0cec"/>
<circle cx="356.22" cy="136.18" r="1.2" fill="#0c0cec"/>
<circle cx="340.66" cy="152.66" r="1.2" fill="#0c0cec"/>
<circle cx="344" cy="153.58" r="1.2" fill="#0c0cec"/>
<circle cx="373.57" cy="119.78" r="1.2" fill="#0c0cec"/>
<circle cx="359.76" cy="134.51" r="1.2" fill="#0c0cec"/>
<circle cx="364.46" cy="129.44" r="1.2" fill="#0c0cec"/>
<circle cx="317.11" cy="177.4" r="1.2" fill="#0c0cec"/>
<circle cx="363.91" cy="125.54" r="1.2" fill="#0c0cec"/>
<circle cx="348.37" cy="146.76" r="1.2" fill="#0c0cec"/>
<circle cx="330.82" cy="165.24" r="1.2" fill="#0c0cec"/>
<circle cx="317.64" cy="173.46" r="1.2" fill="#0c0cec"/>
<circle cx="324.92" cy="165.28" r="1.2" fill="#0c0cec"/>
<circle cx="341.06" cy="155.46" r="1.2" fill="#0c0cec"/>
<circle cx="335.98" cy="162.06" r="1.2" fill="#0c0cec"/>
<circle cx="349.71" cy="143.93" r="1.2" fill="#0c0cec"/>
<circle cx="318.56" cy="172.88" r="1.2" fill="#0c0cec"/>
<circle cx="314.57" cy="183.45" r="1.2" fill="#0c0cec"/>
<circle cx="352.54" cy="145.96" r="1.2" fill="#0c0cec"/>
<circle cx="326.72" cy="168.69" r="1.2" fill="#0c0cec"/>
<circle cx="343.32" cy="151.51" r="1.2" fill="#0c0cec"/>
<circle cx="361.57" cy="134.19" r="1.2" fill="#0c0cec"/>
<circle cx="360.99" cy="129.49" r="1.2" fill="#0c0cec"/>
<circle cx="355.51" cy="136.66" r="1.2" fill="#0c0cec"/>
<circle cx="327.9" cy="170.74" r="1.2" fill="#0c0cec"/>
<circle cx="343.75" cy="147.18" r="1.2" fill="#0c0cec"/>
<circle cx="346.89" cy="147.06" r="1.2" fill="#0c0cec"/>
<circle cx="317.72" cy="173.89" r="1.2" fill="#0c0cec"/>
<circle cx="359.97" cy="137.8" r="1.2" fill="#0c0cec"/>
<circle cx="323.15" cy="165.5" r="1.2" fill="#0c0cec"/>
<circle cx="358.17" cy="138.66" r="1.2" fill="#0c0cec"/>
<circle cx="349.61" cy="147.94" r="1.2" fill="#0c0cec"/>
<circle cx="353.62" cy="144.67" r="1.2" fill="#0c0cec"/>
<circle cx="338.94" cy="151.53" r="1.2" fill="#0c0cec"/>
<circle cx="318.78" cy="169.21" r="1.2" fill="#0c0cec"/>
<circle cx="310.95" cy="181.54" r="1.2" fill="#0c0cec"/>
<circle cx="304.28" cy="195.39" r="1.2" fill="#0c0cec"/>
<circle cx="311.21" cy="179.4" r="1.2" fill="#0c0cec"/>
<circle cx="318.21" cy="163.13" r="1.2" fill="#0c0cec"/>
<circle cx="315.88" cy="178.24" r="1.2" fill="#0c0cec"/>
<circle cx="309.96" cy="184.46" r="1.2" fill="#0c0cec"/>
<circle cx="310.16" cy="183.48" r="1.2" fill="#0c0cec"/>
<circle cx="310.8" cy="182.29" r="1.2" fill="#0c0cec"/>
<circle cx="313.17" cy="184.02" r="1.2" fill="#0c0cec"/>
<circle cx="315.01" cy="170.83" r="1.2" fill="#0c0cec"/>
<circle cx="306.85" cy="189.38" r="1.2" fill="#0c0cec"/>
<g font-family="&quot;Liberation Sans&quot;, sans-serif">
<text transform="translate(192.1,324.4) scale(1.0,1)" font-family="&quot;Liberation Sans&quot;, sans-serif" font-size="9.0" font-weight="bold" text-anchor="start" fill="#000" stroke="#000" stroke-width="0.05" textLength="115.2" lengthAdjust="spacingAndGlyphs">Teff=5200 – sigma= 500</text>
<line x1="95.5" y1="339.5" x2="402.5" y2="339.5" stroke="#888" stroke-width="1" />
<line x1="95.5" y1="565.5" x2="402.5" y2="565.5" stroke="#bbb" stroke-width="1" />
<line x1="95.5" y1="339" x2="95.5" y2="566" stroke="#666" stroke-width="1" />
<line x1="402.5" y1="339" x2="402.5" y2="566" stroke="#444" stroke-width="1" />
<line x1="91" y1="347.5" x2="95.5" y2="347.5" stroke="#333" stroke-width="1" />
<text transform="translate(83.4,347.5) rotate(-90) scale(1.0,1)" font-family="&quot;Liberation Sans&quot;, sans-serif" font-size="8.2" font-weight="normal" text-anchor="middle" fill="#000" stroke="#000" stroke-width="0.05" textLength="18.3" lengthAdjust="spacingAndGlyphs">1.006</text>
<line x1="91" y1="382.5" x2="95.5" y2="382.5" stroke="#333" stroke-width="1" />
<text transform="translate(83.4,382.5) rotate(-90) scale(1.0,1)" font-family="&quot;Liberation Sans&quot;, sans-serif" font-size="8.2" font-weight="normal" text-anchor="middle" fill="#000" stroke="#000" stroke-width="0.05" textLength="18.3" lengthAdjust="spacingAndGlyphs">1.004</text>
<line x1="91" y1="417.5" x2="95.5" y2="417.5" stroke="#333" stroke-width="1" />
<text transform="translate(83.4,417.5) rotate(-90) scale(1.0,1)" font-family="&quot;Liberation Sans&quot;, sans-serif" font-size="8.2" font-weight="normal" text-anchor="middle" fill="#000" stroke="#000" stroke-width="0.05" textLength="18.3" lengthAdjust="spacingAndGlyphs">1.002</text>
<line x1="91" y1="452.5" x2="95.5" y2="452.5" stroke="#333" stroke-width="1" />
<text transform="translate(83.4,452.5) rotate(-90) scale(1.0,1)" font-family="&quot;Liberation Sans&quot;, sans-serif" font-size="8.2" font-weight="normal" text-anchor="middle" fill="#000" stroke="#000" stroke-width="0.05" textLength="18.3" lengthAdjust="spacingAndGlyphs">1.000</text>
<line x1="91" y1="487.5" x2="95.5" y2="487.5" stroke="#333" stroke-width="1" />
<text transform="translate(83.4,487.5) rotate(-90) scale(1.0,1)" font-family="&quot;Liberation Sans&quot;, sans-serif" font-size="8.2" font-weight="normal" text-anchor="middle" fill="#000" stroke="#000" stroke-width="0.05" textLength="18.3" lengthAdjust="spacingAndGlyphs">0.998</text>
<line x1="91" y1="522.5" x2="95.5" y2="522.5" stroke="#333" stroke-width="1" />
<text transform="translate(83.4,522.5) rotate(-90) scale(1.0,1)" font-family="&quot;Liberation Sans&quot;, sans-serif" font-size="8.2" font-weight="normal" text-anchor="middle" fill="#000" stroke="#000" stroke-width="0.05" textLength="18.3" lengthAdjust="spacingAndGlyphs">0.996</text>
<line x1="91" y1="557.5" x2="95.5" y2="557.5" stroke="#333" stroke-width="1" />
<text transform="translate(83.4,557.5) rotate(-90) scale(1.0,1)" font-family="&quot;Liberation Sans&quot;, sans-serif" font-size="8.2" font-weight="normal" text-anchor="middle" fill="#000" stroke="#000" stroke-width="0.05" textLength="18.3" lengthAdjust="spacingAndGlyphs">0.994</text>
<line x1="106.5" y1="565.5" x2="106.5" y2="570" stroke="#333" stroke-width="1" />
<text transform="translate(106.5,583) scale(1.15,1)" font-family="&quot;Liberation Sans&quot;, sans-serif" font-size="7.6" font-weight="normal" text-anchor="middle" fill="#000" stroke="#000" stroke-width="0.05">10000</text>
<line x1="229.32" y1="565.5" x2="229.32" y2="570" stroke="#333" stroke-width="1" />
<text transform="translate(229.32,583) scale(1.15,1)" font-family="&quot;Liberation Sans&quot;, sans-serif" font-size="7.6" font-weight="normal" text-anchor="middle" fill="#000" stroke="#000" stroke-width="0.05">20000</text>
<line x1="301.17" y1="565.5" x2="301.17" y2="570" stroke="#333" stroke-width="1" />
<text transform="translate(301.17,583) scale(1.15,1)" font-family="&quot;Liberation Sans&quot;, sans-serif" font-size="7.6" font-weight="normal" text-anchor="middle" fill="#000" stroke="#000" stroke-width="0.05">30000</text>
<line x1="352.14" y1="565.5" x2="352.14" y2="570" stroke="#333" stroke-width="1" />
<text transform="translate(352.14,583) scale(1.15,1)" font-family="&quot;Liberation Sans&quot;, sans-serif" font-size="7.6" font-weight="normal" text-anchor="middle" fill="#000" stroke="#000" stroke-width="0.05">40000</text>
<line x1="391.68" y1="565.5" x2="391.68" y2="570" stroke="#333" stroke-width="1" />
<text transform="translate(391.68,583) scale(1.15,1)" font-family="&quot;Liberation Sans&quot;, sans-serif" font-size="7.6" font-weight="normal" text-anchor="middle" fill="#000" stroke="#000" stroke-width="0.05">50000</text>
<text transform="translate(248,599) scale(1.15,1)" font-family="&quot;Liberation Sans&quot;, sans-serif" font-size="7.6" font-weight="normal" text-anchor="middle" fill="#000" stroke="#000" stroke-width="0.05">Angstrom</text>
<text transform="translate(60.2,449.8) rotate(-90) scale(1.0,1)" font-family="&quot;Liberation Sans&quot;, sans-serif" font-size="7.2" font-weight="normal" text-anchor="middle" fill="#000" stroke="#000" stroke-width="0.05" textLength="102" lengthAdjust="spacingAndGlyphs">Flux correction (post–processing)</text>
<polyline points="96,383.6 97.45,383.97 98.9,384.34 100.35,384.58 101.8,384.2 103.08,385.13 104.35,384.91 105.62,385.37 106.9,383.9 108.17,384.83 109.45,385.82 110.72,385.43 112,385.3 113.25,386.27 114.5,385.1 115.75,385.99 117,386.3 118,380.2 119.4,386.3 120.75,388.69 122.1,392 123.5,390.43 124.9,388.7 127.2,391.4 128.47,392.11 129.75,391.67 131.03,392.62 132.3,393.7 133.66,393.86 135.02,395.57 136.38,395.86 137.74,395.33 139.1,396.5 140.46,397.29 141.82,396.37 143.18,397.49 144.54,396.87 145.9,397.8 147.11,397.29 148.33,399.24 149.54,398.43 150.76,398.83 151.97,400.6 153.19,400.78 154.4,400.5 155.6,400.75 156.8,402.59 158,402.46 159.2,403.33 160.4,403.11 161.6,405.07 162.8,404.9 164.01,405.83 165.23,406.91 166.44,407.37 167.66,406.88 168.87,407.58 170.09,407.81 171.3,409 172.58,408.79 173.85,409.07 175.12,409.92 176.4,410.7 177.68,411.74 178.95,411.51 180.22,413.57 181.5,414.1 183.2,414.66 184.9,415.8 186.6,412.4 188.3,417.5 190,418.86 191.7,420.9 193.4,422.67 195.1,423.3 196.3,423.31 197.5,423.05 198.7,423.39 199.9,423.84 201.1,422.72 202.3,424.41 203.5,423.6 204.78,422.7 206.05,423.97 207.32,424.11 208.6,422.58 209.88,423.93 211.15,423.13 212.42,423.48 213.7,423.3 215.4,421.6 216.76,420.92 218.12,421.18 219.48,421.63 220.84,423.22 222.2,422.6 223.9,419.5 225.6,417.5 226.8,420.51 228,422.6 229.35,424.22 230.7,424.3 231.97,425.01 233.25,423.84 234.53,423.78 235.8,423.99 237.07,424.36 238.35,423.07 239.62,424.13 240.9,423.6 242.18,423.89 243.45,423.75 244.72,422.02 246,422.6 247.25,422.85 248.5,421.5 250.3,425 251.7,424.12 253.1,424.43 254.5,424.78 255.9,425.19 257.3,424.3 259,419.8 260.8,424 262.55,422.11 264.3,420.8 265.6,420.44 266.9,418.63 268.2,417.09 269.5,416.3 271.25,417.72 273,419.8 274.75,420.97 276.5,423.3 278.25,421.29 280,420.8 281.8,424 283.1,423.19 284.4,423.99 285.7,424.37 287,423.3 288.75,423.54 290.5,425 291.9,423.99 293.3,425.48 294.7,424.46 296.1,424.03 297.5,424 299.3,423.3 301.05,423.68 302.8,425 304.1,424.74 305.4,424.74 306.7,423.65 308,423.3 309.75,424.01 311.5,425 312.82,423.95 314.15,425.25 315.48,423.41 316.8,424 318.1,424.24 319.4,425.11 320.7,424.09 322,425 323.32,425.17 324.65,425.31 325.98,424.48 327.3,424 328.6,425.02 329.9,424.29 331.2,425.38 332.5,426 333.81,425.42 335.12,426.72 336.44,425.78 337.75,426.12 339.06,427.15 340.38,426.93 341.69,427.21 343,426.4 344.31,426.27 345.62,426.28 346.94,426.66 348.25,426.16 349.56,425.77 350.88,425.93 352.19,425.41 353.5,426 354.9,425.58 356.3,426.48 357.7,426.23 359.1,425.43 360.5,425 361.82,423.95 363.15,422.61 364.48,421.11 365.8,420.8 367.1,419.52 368.4,419.56 369.7,418.84 371,417.3 372.75,416.55 374.5,416.3 376.25,417.66 378,418 379.8,421.5 381.55,421.14 383.3,419.8 384.62,420.58 385.95,420.95 387.28,421.54 388.6,421.5 390,421.11 391.4,421.59 392.8,420.69 394.2,420.91 395.6,420.8 396.88,421.57 398.16,421.7 399.44,421.27 400.72,422.72 402,422.2" fill="none" stroke="#222" stroke-width="0.8" stroke-linejoin="round" />
<polyline points="96,457.8 97.4,457.8 98.8,457.57 100.2,456.78 101.6,457.21 103,456.73 104.4,457.03 105.8,456.64 107.2,456.87 108.6,456.52 110,456.2 111.43,456.41 112.86,455.8 114.29,456.02 115.71,456 117.14,455.99 118.57,455.35 120,455.4 121.3,455.75 122.61,455.75 123.91,455.53 125.22,455.82 126.52,455.77 127.83,455.26 129.13,455.25 130.43,454.82 131.74,455.54 133.04,455.62 134.35,455.09 135.65,455.3 136.96,455.3 138.26,455.29 139.57,454.65 140.87,455.29 142.17,455.05 143.48,455.11 144.78,454.82 146.09,455.01 147.39,455.15 148.7,454.98 150,454.8 151.32,455.02 152.63,454.24 153.95,454.37 155.26,454.66 156.58,454.87 157.89,454.38 159.21,454.88 160.53,454.8 161.84,454.13 163.16,454.58 164.47,454.3 165.79,454.09 167.11,454.16 168.42,454.34 169.74,454.17 171.05,454.17 172.37,453.98 173.68,454.43 175,454.32 176.32,454.55 177.63,454.51 178.95,454.11 180.26,454.82 181.58,453.81 182.89,454.24 184.21,454.08 185.53,454.2 186.84,453.86 188.16,454.63 189.47,454.11 190.79,453.72 192.11,454.34 193.42,453.75 194.74,454.22 196.05,453.98 197.37,454.23 198.68,454.62 200,454.1 201.32,454.44 202.63,453.98 203.95,454.4 205.26,454.2 206.58,453.89 207.89,453.63 209.21,454.11 210.53,454.06 211.84,454.48 213.16,454.48 214.47,454.07 215.79,453.78 217.11,454.36 218.42,453.37 219.74,453.47 221.05,453.96 222.37,454 223.68,453.47 225,453.99 226.32,454.27 227.63,453.69 228.95,453.74 230.26,453.5 231.58,453.55 232.89,454.29 234.21,453.63 235.53,454.25 236.84,454.19 238.16,453.82 239.47,453.44 240.79,454.22 242.11,453.67 243.42,453.57 244.74,453.45 246.05,454.17 247.37,453.62 248.68,453.38 250,453.6 251.32,453.57 252.63,453.18 253.95,453.73 255.26,453.54 256.58,453.37 257.89,453.91 259.21,453.96 260.53,453.06 261.84,453.64 263.16,453.35 264.47,454.08 265.79,453.91 267.11,453.32 268.42,453.34 269.74,453.22 271.05,454.14 272.37,453.37 273.68,453.72 275,453.57 276.32,453.76 277.63,453.71 278.95,453.87 280.26,453.18 281.58,453.89 282.89,453.38 284.21,453.64 285.53,453.42 286.84,453.38 288.16,453.63 289.47,453.56 290.79,453.45 292.11,453.87 293.42,453.7 294.74,453.09 296.05,453.33 297.37,453.55 298.68,454.06 300,453.6 301.32,454.02 302.63,453.63 303.95,453.03 305.26,453.86 306.58,453.47 307.89,453.62 309.21,453.76 310.53,453.66 311.84,453.49 313.16,453.95 314.47,453.36 315.79,453.35 317.11,453.85 318.42,453.12 319.74,453.22 321.05,453.79 322.37,452.94 323.68,453.78 325,453.61 326.32,453.32 327.63,453.14 328.95,453.68 330.26,453.81 331.58,452.95 332.89,453.31 334.21,453.38 335.53,453.31 336.84,453.12 338.16,452.91 339.47,453.38 340.79,453.62 342.11,452.79 343.42,452.96 344.74,453.59 346.05,453.55 347.37,453.4 348.68,452.69 350,453.2 351.3,453.44 352.6,453.73 353.9,453.75 355.2,453.42 356.5,452.7 357.8,453.58 359.1,452.89 360.4,453.36 361.7,453.7 363,453.43 364.3,452.8 365.6,452.97 366.9,453.66 368.2,452.81 369.5,453.32 370.8,453.11 372.1,452.83 373.4,453.33 374.7,452.7 376,452.77 377.3,453.07 378.6,452.73 379.9,452.71 381.2,453.28 382.5,453.47 383.8,453.62 385.1,452.8 386.4,453.12 387.7,453 389,453.31 390.3,453.19 391.6,453.68 392.9,453.06 394.2,452.71 395.5,453.42 396.8,452.82 398.1,453.34 399.4,453.21 400.7,453.65 402,453.2" fill="none" stroke="#f25a5a" stroke-width="0.75" stroke-linejoin="round" />
<polyline points="96,445.6 98,445.64 100,445.68 102,445.39 104,445.61 106,445.37 108,445.76 110,445.56 112,445.25 114,445.32 116,445.42 118,445.71 120,445.25 122,445.67 124,445.62 126,445.16 128,445.62 130,445.15 132,445.17 134,445.53 136,445.24 138,445.75 140,445.42 142,445.29 144,445.66 146,445.04 148,445.59 150,445.4 152,445.06 154,445.15 156,445.81 158,445.61 160,445.26 162,445.19 164,445.89 166,445.66 168,445.8 170,445.27 172,445.68 174,445.48 176,445.4 178,445.49 180,445.73 182,445.53 184,445.58 186,445.4 188,445.97 190,445.84 192,445.98 194,445.7 196,446.05 198,445.8 200,445.8 202,445.9 204,445.91 206,446.06 208,445.81 210,445.6 212,445.57 214,445.73 216,445.62 218,446.33 220,446.02 222,446.27 224,445.69 226,446.09 228,446.45 230,446.26 232,446.13 234,446.18 236,445.91 238,445.98 240,446.01 242,446.2 244,446.24 246,446.66 248,446.1 250,446.4 252,446.24 254,446.29 256,446.23 258,446.36 260,446.35 262,446.58 264,446.25 266,447 268,446.58 270,447.07 272,446.9 274,446.92 276,446.79 278,447.2 280,446.57 282,447.05 284,446.78 286,447.12 288,447.19 290,446.77 292,446.83 294,446.72 296,446.92 298,446.83 300,447.2 302,447.16 304,447.66 306,447.21 308,447.21 310,447.37 312,447.27 314,447.67 316,447.69 318,447.29 320,447.39 322,447.78 324,448.03 326,447.84 328,447.7 330,448.18 332,447.45 334,447.53 336,448.14 338,447.89 340,447.64 342,448.08 344,448.47 346,448.14 348,448.04 350,448.2 352,447.89 354,447.89 356,448.57 358,448.25 360,448.63 362,447.94 364,448.1 366,447.96 368,448.26 370,448 372,448.17 374,448.31 376,448.24 378,448.06 380,448.06 382,448.82 384,448.21 386,448.48 388,448.41 390,448.53 392,448.19 394,448.39 396,448.24 398,448.6 400,448.92 402,448.6" fill="none" stroke="#f46a6a" stroke-width="0.75" stroke-linejoin="round" stroke-dasharray="3.5,3"/>
<polyline points="96,468.4 98.07,468.29 100.14,468.31 102.21,467.61 104.29,467.27 106.36,467.5 108.43,467.27 110.5,467.16 112.57,466.82 114.64,466.83 116.71,466.72 118.79,466.69 120.86,466.02 122.93,465.94 125,465.8 127.06,466.22 129.12,465.9 131.18,465.97 133.24,466.28 135.29,466.26 137.35,466.97 139.41,467.17 141.47,466.92 143.53,466.93 145.59,467.05 147.65,467.34 149.71,467.37 151.76,467.81 153.82,468.09 155.88,467.98 157.94,467.99 160,468.5 162.06,468.87 164.11,468.55 166.17,468.88 168.22,469.15 170.28,469.43 172.33,469.41 174.39,469.88 176.44,470 178.5,470.55 180.56,470.6 182.61,471.08 184.67,471.09 186.72,471.38 188.78,471.44 190.83,471.54 192.89,472.04 194.94,472.12 197,472.2 199.06,472.4 201.12,472.06 203.19,471.87 205.25,471.36 207.31,471.64 209.38,471.13 211.44,470.77 213.5,470.55 215.56,470.47 217.62,470.39 219.69,470.55 221.75,470.08 223.81,469.74 225.88,470.14 227.94,469.81 230,469.6 232,469.06 234,468.92 236,468.82 238,468.85 240,469.09 242,469 244,468.57 246,468.1 248,468.1 250,468 252,467.78 254,467.64 256,467.27 258,467.62 260,467.7 262,467.51 264,466.89 266,467.13 268,466.73 270,467.05 272,466.72 274,467.01 276,466.78 278,466.13 280,466.17 282,466.54 284,466.06 286,465.93 288,465.83 290,465.97 292,466 294,465.56 296,465.8 298,465.39 300,465.2 302,464.75 304,465.18 306,464.73 308,464.3 310,464.9 312,464.01 314,464.31 316,464.1 318,464.28 320,463.75 322,463.48 324,463.39 326,463.19 328,463.35 330,463.05 332,463.22 334,462.68 336,462.63 338,462.41 340,462.87 342,462.62 344,462.49 346,462.17 348,461.86 350,461.8 352,461.41 354,461.87 356,461.49 358,461.03 360,461.04 362,460.88 364,461.27 366,461.32 368,460.66 370,461.04 372,460.56 374,460.75 376,460.79 378,460.5 380,460.54 382,460.1 384,459.71 386,460.01 388,459.97 390,459.55 392,459.61 394,459.45 396,459.12 398,459.25 400,459.21 402,459.2" fill="none" stroke="#f46a6a" stroke-width="0.75" stroke-linejoin="round" stroke-dasharray="3.5,3"/>
<polyline points="120,677.3 122,677.28 124,677.34 126,677.23 128,677.4 130,677.33 132,677.36 134,677.27 136,677.26 138,677.2 140,677.27 142,677.13 144,677.18 146,677.2 148,677.14 150,677.06 152,676.98 154,676.97 156,677.04 158,677.1 160,677.14 162,677.11 164,676.98 166,677.15 168,676.94 170,677.06 172,676.86 174,677.05 176,677.01 178,677.09 180,677.06 182,676.98 184,677.02 186,676.98 188,676.93 190,676.79 192,676.87 194,676.97 196,676.77 198,676.97 200,676.83 202,676.78 204,676.65 206,676.75 208,676.68 210,676.81 212,676.87 214,676.86 216,676.76 218,676.68 220,676.7 222,676.53 224,676.66 226,676.57 228,676.56 230,676.41 232,676.52 234,676.26 236,676.24 238,676.18 240,676.24 242,676.27 244,676 246,676.09 248,676.08 250,675.87 252,675.77 254,675.87 256,675.9 258,675.86 260,675.77 262,675.63 264,675.58 266,675.56 268,675.62 270,675.39 272,675.33 274,675.38 276,675.44 278,675.16 280,675.06 282,675.03 284,675.12 286,675.08 288,674.91 290,674.86 292,674.93 294,674.89 296,674.86 298,674.82 300,674.7 302.02,674.47 304.04,674.5 306.07,674.51 308.09,674.45 310.11,674.17 312.13,674.23 314.15,674.07 316.17,674.06 318.2,673.76 320.22,673.8 322.24,673.75 324.26,673.55 326.28,673.34 328.3,673.27 330.33,673.16 332.35,673.05 334.37,672.97 336.39,673.01 338.41,672.76 340.43,672.86 342.46,672.76 344.48,672.69 346.5,672.59 348.52,672.47 350.54,672.44 352.57,672.35 354.59,672.15 356.61,672.16 358.63,671.81 360.65,671.71 362.67,671.6 364.7,671.55 366.72,671.51 368.74,671.44 370.76,671.41 372.78,671.33 374.8,671.04 376.83,671.04 378.85,670.98 380.87,670.84 382.89,670.66 384.91,670.71 386.93,670.55 388.96,670.55 390.98,670.39 393,670.3" fill="none" stroke="#f25050" stroke-width="0.6" stroke-linejoin="round" stroke-dasharray="1.5,0.8"/>
<polyline points="120,677.7 122,677.85 124,677.86 126,677.61 128,677.83 130,677.83 132,677.71 134,677.67 136,677.79 138,677.76 140,677.89 142,677.96 144,677.81 146,677.79 148,677.87 150,677.94 152,677.98 154,677.93 156,677.85 158,677.88 160,678.04 162,677.96 164,677.83 166,677.95 168,677.91 170,678.05 172,677.88 174,677.96 176,677.91 178,678.04 180,678.21 182,678.08 184,678.05 186,678.23 188,677.99 190,678.08 192,678.23 194,678 196,678.24 198,678.13 200,678.03 202,678.12 204,678.19 206,678.18 208,678.23 210,678.11 212,678.17 214,678.41 216,678.26 218,678.28 220,678.3 222,678.23 224,678.33 226,678.59 228,678.56 230,678.55 232,678.47 234,678.62 236,678.78 238,678.73 240,678.83 242,678.97 244,678.94 246,678.99 248,678.86 250,678.91 252,679.18 254,679.12 256,679.31 258,679.35 260,679.42 262,679.31 264,679.55 266,679.53 268,679.62 270,679.44 272,679.68 274,679.63 276,679.84 278,679.9 280,679.72 282,679.83 284,679.83 286,679.94 288,679.94 290,680.1 292,679.99 294,680.05 296,680.19 298,680.12 300,680.3 302.02,680.36 304.04,680.6 306.07,680.69 308.09,680.57 310.11,680.61 312.13,680.95 314.15,681.08 316.17,681.06 318.2,681.01 320.22,681.13 322.24,681.43 324.26,681.53 326.28,681.35 328.3,681.48 330.33,681.65 332.35,681.69 334.37,681.93 336.39,681.91 338.41,682.12 340.43,682.02 342.46,682.22 344.48,682.45 346.5,682.46 348.52,682.37 350.54,682.47 352.57,682.72 354.59,682.73 356.61,682.82 358.63,682.94 360.65,683.06 362.67,683.27 364.7,683.14 366.72,683.33 368.74,683.33 370.76,683.51 372.78,683.66 374.8,683.57 376.83,683.76 378.85,683.92 380.87,683.8 382.89,684.12 384.91,684.11 386.93,684.23 388.96,684.35 390.98,684.5 393,684.5" fill="none" stroke="#f25050" stroke-width="0.6" stroke-linejoin="round" stroke-dasharray="1.5,0.8"/>
<line x1="96.5" y1="677.5" x2="393.5" y2="677.5" stroke="#f5606a" stroke-width="1.3" />
<polyline points="97,645.5 98.2,644.95 99.4,646.35 100.6,645.76 101.8,647.2 102.82,647.12 103.84,647.2 104.86,646.66 105.88,647.44 106.9,647.94 107.92,648.56 108.94,649.32 109.96,648.27 110.98,648.8 112,648.9 113.07,649.37 114.15,649.86 115.22,649.89 116.29,649.97 117.36,648.46 118.44,648.17 119.51,649.85 120.58,647.97 121.65,648.79 122.73,649.42 123.8,648.9 124.82,649.3 125.84,649.34 126.86,650.85 127.88,649.82 128.9,650.6 129.92,650.88 130.94,651.67 131.96,650.31 132.98,650.95 134,651.44 135.02,651.77 136.04,651.15 137.06,651.86 138.08,651.16 139.1,652.3 140.12,651.66 141.14,652.49 142.16,652.33 143.18,654.41 144.2,653.13 145.22,653.43 146.24,654.81 147.26,654.99 148.28,654.21 149.3,655 150.34,655.83 151.38,655.49 152.42,655.08 153.45,655.71 154.49,654.98 155.53,655.13 156.57,656.58 157.61,655.73 158.65,656.84 159.68,655.37 160.72,655.39 161.76,655.31 162.8,656.4 163.82,657.03 164.84,656.73 165.86,655.62 166.88,655.8 167.9,657.61 168.92,656.99 169.94,657.92 170.96,656.19 171.98,657.5 173,657.4 174.02,656.83 175.04,658.43 176.06,658.45 177.08,658.73 178.1,658.14 179.12,660.01 180.14,658.43 181.16,658.6 182.18,660.23 183.2,660.1 184.22,659.44 185.24,659.63 186.26,660.73 187.28,661.39 188.3,662.16 189.32,662.03 190.34,660.83 191.36,662.33 192.38,663.02 193.4,662.5 194.41,661.77 195.42,663.26 196.43,662.27 197.44,662.46 198.45,661.9 199.46,663.67 200.47,663.23 201.48,664.18 202.49,663.32 203.5,663.5 204.55,662.72 205.59,662.83 206.64,662.91 207.68,664.39 208.73,662.74 209.78,662.46 210.82,663.01 211.87,662.39 212.92,663.13 213.96,663.54 215.01,663.58 216.05,662.51 217.1,663.2 218.15,662.43 219.19,663.23 220.24,663.68 221.28,663.18 222.33,663.48 223.38,664.25 224.42,662.58 225.47,662.87 226.52,663.39 227.56,663.51 228.61,664.33 229.65,663.6 230.7,663.5 231.76,664.07 232.82,663.75 233.89,664.76 234.95,665.09 236.01,664.11 237.07,663.91 238.14,664.46 239.2,665.2 240.36,664.55 241.52,665.38 242.68,663.66 243.84,664.12 245,663.5 246.02,663.64 247.04,664.16 248.06,662.15 249.08,663.41 250.1,662.29 251.12,661.61 252.14,662.6 253.16,662.9 254.18,662.15 255.2,661.8 256.22,660.81 257.24,662.84 258.26,661.55 259.28,662.1 260.3,662.29 261.32,661.27 262.34,661.6 263.36,661.42 264.38,660.91 265.4,661.8 266.52,661.24 267.63,663.08 268.75,662.8 269.87,664.21 270.98,662.84 272.1,664.2 273.13,663.79 274.17,663.56 275.2,665.27 276.24,664.96 277.27,665.22 278.31,664.4 279.34,663.54 280.38,664.26 281.41,663.87 282.45,663.46 283.48,664.68 284.52,664.1 285.55,663.73 286.59,664.65 287.62,665.61 288.66,665.67 289.69,664.64 290.73,663.87 291.76,665.37 292.8,663.96 293.83,664.92 294.87,663.95 295.9,664.9 296.93,666 297.95,665.05 298.98,664.85 300.01,664.52 301.04,665.16 302.06,666.12 303.09,664.95 304.12,664.5 305.15,665.2 306.17,666.12 307.2,664.97 308.23,665.56 309.25,666.22 310.28,664.94 311.31,666.04 312.34,665.45 313.36,664.62 314.39,664.46 315.42,666.44 316.45,665.43 317.47,665.41 318.5,666.49 319.53,665.76 320.55,665.63 321.58,665.18 322.61,666.23 323.64,665.18 324.66,665.68 325.69,666.35 326.72,666.04 327.75,665.03 328.77,665.22 329.8,665.9 330.83,666.3 331.86,666.34 332.89,664.93 333.92,666.87 334.95,664.94 335.98,664.99 337.01,664.78 338.04,665.54 339.07,665.89 340.1,666.38 341.13,664.82 342.17,665.97 343.2,664.64 344.23,665.65 345.26,664.9 346.29,665.1 347.32,664.4 348.35,665.84 349.38,664.49 350.41,665.87 351.44,664.9 352.47,665.43 353.5,665.2 354.63,665.06 355.77,664.28 356.9,664.67 358.03,664.32 359.17,662.47 360.3,662.5 361.36,662.01 362.43,663.08 363.49,661.32 364.55,661.82 365.61,661.69 366.68,662.8 367.74,660.81 368.8,661.5 369.82,662.38 370.84,663.15 371.86,663.62 372.88,662.56 373.9,664.2 374.92,665.01 375.94,663.45 376.96,664.47 377.98,663.87 379,663.18 380.02,663.92 381.04,663.4 382.06,662.49 383.08,663.18 384.1,662.5 385.21,662.72 386.33,663.39 387.44,663.39 388.55,664 389.66,662.81 390.77,663.76 391.89,662.89 393,664.2" fill="none" stroke="#222" stroke-width="0.75" stroke-linejoin="round" />
<line x1="96.5" y1="615.5" x2="393.5" y2="615.5" stroke="#999" stroke-width="1" />
<line x1="96.5" y1="700.5" x2="393.5" y2="700.5" stroke="#444" stroke-width="1" />
<line x1="96.5" y1="615" x2="96.5" y2="701" stroke="#222" stroke-width="1" />
<line x1="393.5" y1="615" x2="393.5" y2="701" stroke="#222" stroke-width="1" />
<line x1="90.9" y1="617.5" x2="96.5" y2="617.5" stroke="#444" stroke-width="1" />
<line x1="90.9" y1="637.5" x2="96.5" y2="637.5" stroke="#444" stroke-width="1" />
<line x1="90.9" y1="657.5" x2="96.5" y2="657.5" stroke="#444" stroke-width="1" />
<line x1="90.9" y1="677.5" x2="96.5" y2="677.5" stroke="#444" stroke-width="1" />
<line x1="90.9" y1="697.5" x2="96.5" y2="697.5" stroke="#444" stroke-width="1" />
<line x1="107.5" y1="700.5" x2="107.5" y2="705" stroke="#444" stroke-width="1" />
<line x1="226.32" y1="700.5" x2="226.32" y2="705" stroke="#444" stroke-width="1" />
<line x1="295.82" y1="700.5" x2="295.82" y2="705" stroke="#444" stroke-width="1" />
<line x1="345.13" y1="700.5" x2="345.13" y2="705" stroke="#444" stroke-width="1" />
<line x1="383.38" y1="700.5" x2="383.38" y2="705" stroke="#444" stroke-width="1" />
<text transform="translate(84.4,616.8) rotate(-90) scale(1.0,1)" font-family="&quot;Liberation Sans&quot;, sans-serif" font-size="8.4" font-weight="normal" text-anchor="middle" fill="#000" stroke="#000" stroke-width="0.05" textLength="19.6" lengthAdjust="spacingAndGlyphs">1.006</text>
<text transform="translate(84.4,655.9) rotate(-90) scale(1.0,1)" font-family="&quot;Liberation Sans&quot;, sans-serif" font-size="8.4" font-weight="normal" text-anchor="middle" fill="#000" stroke="#000" stroke-width="0.05" textLength="19.6" lengthAdjust="spacingAndGlyphs">1.002</text>
<text transform="translate(84.4,693.7) rotate(-90) scale(1.0,1)" font-family="&quot;Liberation Sans&quot;, sans-serif" font-size="8.4" font-weight="normal" text-anchor="middle" fill="#000" stroke="#000" stroke-width="0.05" textLength="19.6" lengthAdjust="spacingAndGlyphs">0.998</text>
<text transform="translate(66.4,657) rotate(-90) scale(1.0,1)" font-family="&quot;Liberation Sans&quot;, sans-serif" font-size="8.4" font-weight="normal" text-anchor="middle" fill="#000" stroke="#000" stroke-width="0.05" textLength="56" lengthAdjust="spacingAndGlyphs">Flux correction</text>
<polyline points="120,772 122,772.08 124,772.06 126,772.07 128,771.81 130,771.95 132,771.92 134,771.8 136,771.81 138,772.03 140,771.99 142,771.79 144,771.95 146,771.89 148,771.8 150,771.86 152,771.73 154,771.73 156,771.64 158,771.82 160,771.78 162,771.82 164,771.74 166,771.7 168,771.65 170,771.77 172,771.65 174,771.71 176,771.74 178,771.64 180,771.7 182,771.5 184,771.54 186,771.71 188,771.49 190,771.45 192,771.42 194,771.64 196,771.43 198,771.52 200,771.5 202,771.6 204,771.49 206,771.49 208,771.33 210,771.55 212,771.53 214,771.47 216,771.52 218,771.45 220,771.4 222,771.41 224,771.41 226,771.29 228,771.06 230,771.27 232,771.25 234,770.96 236,770.87 238,770.9 240,770.78 242,770.81 244,770.68 246,770.67 248,770.55 250,770.63 252,770.54 254,770.62 256,770.47 258,770.35 260,770.54 262,770.47 264,770.36 266,770.17 268,770.17 270,770.14 272,770.07 274,769.91 276,769.99 278,770.03 280,769.96 282,769.96 284,769.85 286,769.83 288,769.81 290,769.78 292,769.69 294,769.52 296,769.55 298,769.5 300,769.4 302.02,769.41 304.04,769.25 306.07,769.06 308.09,768.87 310.11,768.8 312.13,768.67 314.15,768.69 316.17,768.61 318.2,768.33 320.22,768.32 322.24,768.31 324.26,768.06 326.28,767.87 328.3,767.91 330.33,767.73 332.35,767.55 334.37,767.49 336.39,767.3 338.41,767.23 340.43,767.2 342.46,767 344.48,766.86 346.5,766.91 348.52,766.93 350.54,766.78 352.57,766.52 354.59,766.59 356.61,766.23 358.63,766.14 360.65,765.99 362.67,765.9 364.7,765.95 366.72,765.89 368.74,765.7 370.76,765.69 372.78,765.47 374.8,765.5 376.83,765.3 378.85,765.17 380.87,764.95 382.89,764.92 384.91,764.82 386.93,764.82 388.96,764.54 390.98,764.45 393,764.4" fill="none" stroke="#f25050" stroke-width="0.6" stroke-linejoin="round" stroke-dasharray="1.5,0.8"/>
<polyline points="120,772.4 122,772.51 124,772.3 126,772.45 128,772.36 130,772.51 132,772.5 134,772.36 136,772.57 138,772.48 140,772.47 142,772.64 144,772.63 146,772.5 148,772.62 150,772.47 152,772.6 154,772.48 156,772.66 158,772.75 160,772.68 162,772.51 164,772.67 166,772.67 168,772.67 170,772.6 172,772.65 174,772.71 176,772.61 178,772.8 180,772.68 182,772.71 184,772.66 186,772.74 188,772.94 190,772.76 192,772.71 194,772.8 196,772.99 198,772.74 200,772.83 202,772.8 204,772.96 206,772.9 208,772.81 210,773.05 212,772.9 214,773.02 216,772.96 218,773.1 220,773 222,772.92 224,773.02 226,773.09 228,773.13 230,773.35 232,773.3 234,773.3 236,773.4 238,773.55 240,773.52 242,773.54 244,773.65 246,773.68 248,773.67 250,773.73 252,773.69 254,773.83 256,774.01 258,773.89 260,773.96 262,774.08 264,774.13 266,774.05 268,774.18 270,774.32 272,774.16 274,774.23 276,774.48 278,774.57 280,774.37 282,774.42 284,774.64 286,774.59 288,774.75 290,774.61 292,774.79 294,774.75 296,774.85 298,775.01 300,775 302.02,775.09 304.04,775.28 306.07,775.36 308.09,775.38 310.11,775.54 312.13,775.42 314.15,775.6 316.17,775.64 318.2,775.82 320.22,775.75 322.24,776.07 324.26,776 326.28,776.22 328.3,776.35 330.33,776.44 332.35,776.36 334.37,776.59 336.39,776.71 338.41,776.54 340.43,776.81 342.46,776.89 344.48,776.9 346.5,776.93 348.52,776.99 350.54,777.15 352.57,777.39 354.59,777.32 356.61,777.36 358.63,777.56 360.65,777.59 362.67,777.73 364.7,777.77 366.72,777.81 368.74,777.82 370.76,778.14 372.78,778.18 374.8,778.14 376.83,778.3 378.85,778.42 380.87,778.48 382.89,778.69 384.91,778.74 386.93,778.68 388.96,778.78 390.98,778.95 393,779" fill="none" stroke="#f25050" stroke-width="0.6" stroke-linejoin="round" stroke-dasharray="1.5,0.8"/>
<line x1="96.5" y1="772.2" x2="393.5" y2="772.2" stroke="#f5606a" stroke-width="1.3" />
<polyline points="97,732.1 98.03,731.49 99.05,733.33 100.08,731.51 101.1,732.65 102.12,732.29 103.15,732.98 104.17,732.06 105.2,733.2 106.22,732.65 107.24,734.4 108.26,734.01 109.28,732.83 110.3,733.4 111.32,732.53 112.34,732.79 113.36,733 114.38,734.81 115.4,733.8 116.5,732.25 117.6,730.98 118.7,730.4 119.83,731.48 120.97,733.61 122.1,736.5 123.23,737.06 124.37,735.96 125.5,734.9 126.63,736.72 127.77,737.44 128.9,737.6 129.95,738.4 130.99,737.41 132.04,737.4 133.08,737.8 134.13,737.53 135.18,737.95 136.22,739.32 137.27,739 138.32,738.12 139.36,738.94 140.41,740.32 141.45,740.5 142.5,739.9 143.55,740.59 144.59,740.78 145.64,741.36 146.68,740.76 147.73,740.57 148.78,741.17 149.82,740.71 150.87,740.36 151.92,741.03 152.96,741.65 154.01,741.1 155.05,741.19 156.1,742.3 157.11,742.01 158.12,742.55 159.13,744.12 160.14,743.35 161.15,744.39 162.16,744.46 163.17,744.39 164.18,744.07 165.19,744.49 166.2,745 167.22,744.94 168.24,745.98 169.26,746.8 170.28,747 171.3,746.25 172.32,746.27 173.34,746.3 174.36,747.91 175.38,747.46 176.4,748.4 177.42,747.79 178.44,748.92 179.46,749.24 180.48,749.67 181.5,750.8 182.63,750.36 183.77,749.39 184.9,748.4 186.03,749.29 187.17,751.64 188.3,752.5 189.32,752.39 190.34,754.51 191.36,753.28 192.38,754.86 193.4,755.2 194.45,755.7 195.49,755.82 196.54,755.33 197.58,756.23 198.63,755.75 199.68,755.94 200.72,754.65 201.77,754.94 202.82,755.61 203.86,755.84 204.91,754.9 205.95,756.38 207,755.9 208,755.28 209,755.29 210,755.11 211,755.53 212,754.5 213.06,754.24 214.12,754.98 215.19,755.26 216.25,755.54 217.31,754.96 218.38,755.06 219.44,755.66 220.5,755.9 221.63,754.66 222.77,753.28 223.9,751.5 225.03,752.16 226.17,754.31 227.3,755.9 228.32,756.13 229.34,755.43 230.36,755.32 231.38,757.24 232.4,755.35 233.42,756.5 234.44,756.15 235.46,755.67 236.48,756.29 237.5,756.9 238.63,755.82 239.77,756.01 240.9,756.8 242.03,754.64 243.17,754.91 244.3,754.9 245.37,755.57 246.44,755.66 247.51,754.57 248.59,755.27 249.66,755.63 250.73,757.23 251.8,756.6 252.93,755.96 254.07,755.03 255.2,755.01 256.33,754.5 257.47,753.25 258.6,753.5 259.73,753.53 260.87,753.32 262,752.45 263.13,752.25 264.27,752.43 265.4,751.5 266.52,753.12 267.63,752.98 268.75,752.35 269.87,753.98 270.98,754.94 272.1,755.2 273.23,754.94 274.37,755.84 275.5,755.26 276.63,755.92 277.77,756.03 278.9,755.9 279.9,756.27 280.9,756.84 281.9,756.36 282.9,756.36 283.9,756.35 284.9,755.31 285.9,756.15 286.9,756.16 287.9,754.93 288.9,756.46 289.9,755.3 290.9,755.88 291.9,755.95 292.9,756.39 293.9,756.48 294.9,755.83 295.9,755.9 296.96,756.87 298.01,755.77 299.07,756.05 300.12,756.98 301.18,755.51 302.24,756.37 303.29,756.9 304.35,754.99 305.41,756.51 306.46,756.23 307.52,755.99 308.57,756.54 309.63,756.69 310.69,755.12 311.74,755.87 312.8,755.9 313.8,756.25 314.8,756.54 315.8,757.21 316.8,756.97 317.8,757.12 318.8,755.54 319.8,756.44 320.8,757.61 321.8,757.78 322.8,757.46 323.8,756.63 324.8,757.69 325.8,757.27 326.8,757.67 327.8,757.7 328.8,758.3 329.8,757.6 330.82,758.07 331.84,758.64 332.86,757.59 333.88,757.59 334.9,757.95 335.92,757.74 336.94,756.61 337.96,758.61 338.98,757.2 340,757.6 341.02,756.59 342.04,756.92 343.06,758.54 344.08,757.11 345.1,757.16 346.12,758.29 347.14,757.03 348.16,757.97 349.18,757.75 350.2,757.6 351.33,758.07 352.47,756.75 353.6,756.02 354.73,755.47 355.87,755.3 357,755.2 358.12,753.37 359.23,752.9 360.35,752.23 361.47,751.86 362.58,752.12 363.7,750.8 364.72,752.11 365.74,751.16 366.76,751.27 367.78,751.71 368.8,752.5 369.82,752.98 370.84,752.85 371.86,752.26 372.88,753.35 373.9,753.5 374.92,753.06 375.94,752.86 376.96,754.34 377.98,752.91 379,753.72 380.02,754.51 381.04,754.08 382.06,754.88 383.08,753.73 384.1,754.2 385.21,755.31 386.33,753.45 387.44,755.44 388.55,754.53 389.66,753.73 390.77,754.42 391.89,756.15 393,755.2" fill="none" stroke="#222" stroke-width="0.75" stroke-linejoin="round" />
<line x1="96.5" y1="709.5" x2="393.5" y2="709.5" stroke="#999" stroke-width="1" />
<line x1="96.5" y1="795.5" x2="393.5" y2="795.5" stroke="#444" stroke-width="1" />
<line x1="96.5" y1="709" x2="96.5" y2="796" stroke="#222" stroke-width="1" />
<line x1="393.5" y1="709" x2="393.5" y2="796" stroke="#222" stroke-width="1" />
<line x1="90.9" y1="712.2" x2="96.5" y2="712.2" stroke="#444" stroke-width="1" />
<line x1="90.9" y1="732.2" x2="96.5" y2="732.2" stroke="#444" stroke-width="1" />
<line x1="90.9" y1="752.2" x2="96.5" y2="752.2" stroke="#444" stroke-width="1" />
<line x1="90.9" y1="772.2" x2="96.5" y2="772.2" stroke="#444" stroke-width="1" />
<line x1="90.9" y1="792.2" x2="96.5" y2="792.2" stroke="#444" stroke-width="1" />
<line x1="107.5" y1="795.5" x2="107.5" y2="800" stroke="#444" stroke-width="1" />
<line x1="226.32" y1="795.5" x2="226.32" y2="800" stroke="#444" stroke-width="1" />
<line x1="295.82" y1="795.5" x2="295.82" y2="800" stroke="#444" stroke-width="1" />
<line x1="345.13" y1="795.5" x2="345.13" y2="800" stroke="#444" stroke-width="1" />
<line x1="383.38" y1="795.5" x2="383.38" y2="800" stroke="#444" stroke-width="1" />
<text transform="translate(84.4,716.6) rotate(-90) scale(1.0,1)" font-family="&quot;Liberation Sans&quot;, sans-serif" font-size="8.4" font-weight="normal" text-anchor="middle" fill="#000" stroke="#000" stroke-width="0.05" textLength="19.6" lengthAdjust="spacingAndGlyphs">1.006</text>
<text transform="translate(84.4,750.8) rotate(-90) scale(1.0,1)" font-family="&quot;Liberation Sans&quot;, sans-serif" font-size="8.4" font-weight="normal" text-anchor="middle" fill="#000" stroke="#000" stroke-width="0.05" textLength="19.6" lengthAdjust="spacingAndGlyphs">1.002</text>
<text transform="translate(84.4,790.9) rotate(-90) scale(1.0,1)" font-family="&quot;Liberation Sans&quot;, sans-serif" font-size="8.4" font-weight="normal" text-anchor="middle" fill="#000" stroke="#000" stroke-width="0.05" textLength="19.6" lengthAdjust="spacingAndGlyphs">0.998</text>
<text transform="translate(66.4,751.5) rotate(-90) scale(1.0,1)" font-family="&quot;Liberation Sans&quot;, sans-serif" font-size="8.4" font-weight="normal" text-anchor="middle" fill="#000" stroke="#000" stroke-width="0.05" textLength="56" lengthAdjust="spacingAndGlyphs">Flux correction</text>
<polyline points="120,866.4 122,866.45 124,866.45 126,866.46 128,866.2 130,866.28 132,866.32 134,866.44 136,866.43 138,866.19 140,866.43 142,866.28 144,866.2 146,866.12 148,866.21 150,866.23 152,866.19 154,866.14 156,866.32 158,866.16 160,866.1 162,866.23 164,866.06 166,866.1 168,865.99 170,866.02 172,866.24 174,866.11 176,866.07 178,866.1 180,866.09 182,866.03 184,865.98 186,865.9 188,865.85 190,865.87 192,865.94 194,865.81 196,866 198,865.88 200,865.84 202,865.85 204,865.89 206,865.8 208,865.98 210,865.85 212,865.72 214,865.71 216,865.94 218,865.84 220,865.8 222,865.69 224,865.76 226,865.51 228,865.72 230,865.68 232,865.55 234,865.32 236,865.38 238,865.45 240,865.33 242,865.16 244,865.12 246,865.02 248,865.11 250,864.95 252,864.98 254,865.07 256,865.02 258,864.85 260,864.89 262,864.64 264,864.83 266,864.76 268,864.59 270,864.67 272,864.44 274,864.59 276,864.35 278,864.48 280,864.4 282,864.38 284,864.27 286,864.02 288,864.03 290,864.1 292,864.12 294,864 296,863.76 298,863.8 300,863.8 302.02,863.63 304.04,863.46 306.07,863.36 308.09,863.33 310.11,863.16 312.13,863.01 314.15,862.94 316.17,862.98 318.2,862.75 320.22,862.68 322.24,862.61 324.26,862.22 326.28,862.36 328.3,862 330.33,861.92 332.35,861.96 334.37,861.84 336.39,861.68 338.41,861.52 340.43,861.48 342.46,861.27 344.48,861.08 346.5,860.97 348.52,860.81 350.54,860.67 352.57,860.83 354.59,860.71 356.61,860.41 358.63,860.31 360.65,860.15 362.67,860.18 364.7,859.97 366.72,859.76 368.74,859.85 370.76,859.74 372.78,859.36 374.8,859.36 376.83,859.17 378.85,859.18 380.87,858.98 382.89,858.84 384.91,858.72 386.93,858.69 388.96,858.54 390.98,858.42 393,858.3" fill="none" stroke="#f25050" stroke-width="0.6" stroke-linejoin="round" stroke-dasharray="1.5,0.8"/>
<polyline points="120,866.8 122,866.87 124,866.82 126,866.97 128,866.83 130,866.95 132,867 134,866.92 136,866.92 138,866.99 140,866.98 142,866.84 144,866.92 146,866.85 148,866.82 150,867.04 152,866.94 154,866.93 156,866.87 158,866.88 160,867.09 162,867.01 164,867.04 166,867.13 168,867.21 170,867.16 172,867.03 174,867.27 176,867.04 178,867.17 180,867.2 182,867.11 184,867.3 186,867.23 188,867.27 190,867.11 192,867.33 194,867.18 196,867.29 198,867.34 200,867.23 202,867.22 204,867.25 206,867.46 208,867.38 210,867.33 212,867.37 214,867.41 216,867.3 218,867.26 220,867.4 222,867.33 224,867.52 226,867.58 228,867.74 230,867.69 232,867.81 234,867.9 236,867.8 238,867.83 240,867.89 242,867.91 244,868.08 246,868.07 248,867.99 250,868.29 252,868.21 254,868.32 256,868.31 258,868.38 260,868.42 262,868.33 264,868.39 266,868.62 268,868.55 270,868.54 272,868.79 274,868.82 276,868.88 278,868.82 280,868.79 282,869.03 284,868.91 286,869.1 288,869.16 290,869.08 292,869.05 294,869.28 296,869.39 298,869.38 300,869.4 302.02,869.62 304.04,869.48 306.07,869.7 308.09,869.69 310.11,869.82 312.13,869.81 314.15,869.87 316.17,870.04 318.2,870.14 320.22,870.31 322.24,870.29 324.26,870.34 326.28,870.46 328.3,870.53 330.33,870.55 332.35,870.58 334.37,870.79 336.39,870.77 338.41,870.75 340.43,870.87 342.46,871 344.48,871.18 346.5,871.25 348.52,871.28 350.54,871.45 352.57,871.38 354.59,871.47 356.61,871.67 358.63,871.72 360.65,871.73 362.67,871.94 364.7,871.76 366.72,871.99 368.74,872.17 370.76,872.25 372.78,872.13 374.8,872.39 376.83,872.38 378.85,872.58 380.87,872.48 382.89,872.66 384.91,872.73 386.93,872.91 388.96,872.8 390.98,872.89 393,873" fill="none" stroke="#f25050" stroke-width="0.6" stroke-linejoin="round" stroke-dasharray="1.5,0.8"/>
<line x1="96.5" y1="866.6" x2="393.5" y2="866.6" stroke="#f5606a" stroke-width="1.3" />
<polyline points="97,818.7 98.05,817.93 99.11,819.21 100.16,817.92 101.22,819.69 102.27,818.19 103.33,818.35 104.38,820.07 105.44,819.13 106.49,819.75 107.55,818.91 108.6,819.3 109.73,819.08 110.87,819.71 112,821.41 113.13,820.02 114.27,821.94 115.4,821.4 116.52,822.63 117.63,822.56 118.75,822.03 119.87,823.44 120.98,824.21 122.1,823.7 123.23,823.8 124.37,822.88 125.5,823.64 126.63,824.3 127.77,823.4 128.9,823.1 129.92,822.46 130.94,822.71 131.96,823.78 132.98,822.63 134,822.65 135.02,823.6 136.04,823.48 137.06,824.13 138.08,823.33 139.1,824.4 140.15,824.66 141.19,825.05 142.24,824.39 143.28,825.1 144.33,825.11 145.38,825.82 146.42,825.48 147.47,825.75 148.52,825.72 149.56,826.42 150.61,824.95 151.65,825.12 152.7,826.1 153.72,826.56 154.74,826.16 155.76,824 156.78,825.61 157.8,824.4 158.85,824.34 159.9,824.58 160.95,823.94 162,822.93 163.05,822.05 164.1,823.18 165.15,822.76 166.2,822 167.33,822.12 168.47,821.86 169.6,822.25 170.73,823.69 171.87,822.84 173,823.1 174.02,822.42 175.04,824.09 176.06,824.03 177.08,822.23 178.1,822.23 179.12,823.37 180.14,822.57 181.16,822.72 182.18,823.14 183.2,822.7 184.22,822.37 185.24,823.25 186.26,822.56 187.28,822.77 188.3,823.65 189.32,823.56 190.34,824.76 191.36,823.28 192.38,825.15 193.4,824.4 194.42,824.08 195.44,824.45 196.46,824.13 197.48,824.8 198.5,825.4 199.5,825.78 200.5,823.74 201.5,824.1 202.5,823.73 203.5,822 204.52,822.11 205.54,820.67 206.56,820.89 207.58,819.99 208.6,820.4 209.62,820.39 210.64,821.12 211.66,821.28 212.68,822.96 213.7,823.1 214.72,822.77 215.74,821.88 216.76,821.42 217.78,820.79 218.8,820.35 219.82,820.69 220.84,819.5 221.86,820.11 222.88,819.14 223.9,819.3 225.03,821.17 226.17,821.32 227.3,823.1 228.43,824.27 229.57,824.85 230.7,825.2 231.83,824.03 232.97,825.96 234.1,825.4 235.12,826.02 236.14,827.61 237.16,827.36 238.18,828.21 239.2,828.8 240.33,828.84 241.47,830.5 242.6,830.21 243.73,831.91 244.87,832.09 246,832.2 247.07,832.19 248.14,831.45 249.21,832.12 250.29,832.59 251.36,832.63 252.43,833.24 253.5,833.2 254.52,831.57 255.54,832.05 256.56,832.44 257.58,832.04 258.6,830.5 259.73,828.65 260.87,826.38 262,823.7 263.13,824.86 264.27,826.67 265.4,826.5 266.52,826.79 267.63,825.71 268.75,825.44 269.87,826.07 270.98,824.86 272.1,824.4 273.23,824.97 274.37,824.68 275.5,825.81 276.63,825.77 277.77,827.13 278.9,826.5 279.96,827.34 281.02,827.07 282.09,826.7 283.15,824.45 284.21,824.25 285.27,824.57 286.34,825.38 287.4,824.4 288.46,824.65 289.52,824.11 290.59,823.9 291.65,824.35 292.71,824.21 293.77,824.37 294.84,825.81 295.9,825.4 297.03,825.29 298.17,825.8 299.3,827.36 300.43,826.85 301.57,828.97 302.7,828.8 303.83,829.7 304.97,830.76 306.1,831 307.23,831.57 308.37,831.12 309.5,832.2 310.5,831.83 311.5,831.54 312.5,831.36 313.5,832.31 314.5,831.2 315.63,832.19 316.77,834.12 317.9,834.6 319.03,835.34 320.17,834.58 321.3,835.31 322.43,836.57 323.57,837.49 324.7,837.3 325.76,837.23 326.82,837.77 327.89,838.57 328.95,839.26 330.01,839.69 331.07,841.31 332.14,841.13 333.2,841.4 334.25,840.99 335.29,841.21 336.34,841.65 337.38,840.96 338.43,841.55 339.48,840.9 340.52,842.28 341.57,842.82 342.62,842.97 343.66,842.38 344.71,841.99 345.75,842.45 346.8,842.4 347.84,842.52 348.88,841.69 349.92,842.49 350.95,842.39 351.99,841.73 353.03,842.27 354.07,843.14 355.11,842.71 356.15,842.02 357.18,841.82 358.22,842.69 359.26,842.52 360.3,842.4 361.32,842.13 362.34,842.68 363.36,842.7 364.38,843.36 365.4,844.08 366.42,843.14 367.44,843.67 368.46,843.9 369.48,844.3 370.5,844.1 371.52,843.37 372.54,843.2 373.56,844.52 374.58,842.64 375.6,843.65 376.62,842.55 377.64,842.89 378.66,842.63 379.68,842 380.7,842.4 381.72,841.63 382.75,843.29 383.77,841.21 384.8,841.38 385.82,842.63 386.85,841.77 387.88,841.32 388.9,842.54 389.93,842.93 390.95,841.17 391.98,842.21 393,841.7" fill="none" stroke="#222" stroke-width="0.75" stroke-linejoin="round" />
<line x1="96.5" y1="803.5" x2="393.5" y2="803.5" stroke="#999" stroke-width="1" />
<line x1="96.5" y1="889.5" x2="393.5" y2="889.5" stroke="#444" stroke-width="1" />
<line x1="96.5" y1="803" x2="96.5" y2="890" stroke="#222" stroke-width="1" />
<line x1="393.5" y1="803" x2="393.5" y2="890" stroke="#222" stroke-width="1" />
<line x1="90.9" y1="806.6" x2="96.5" y2="806.6" stroke="#444" stroke-width="1" />
<line x1="90.9" y1="826.6" x2="96.5" y2="826.6" stroke="#444" stroke-width="1" />
<line x1="90.9" y1="846.6" x2="96.5" y2="846.6" stroke="#444" stroke-width="1" />
<line x1="90.9" y1="866.6" x2="96.5" y2="866.6" stroke="#444" stroke-width="1" />
<line x1="90.9" y1="886.6" x2="96.5" y2="886.6" stroke="#444" stroke-width="1" />
<line x1="107.5" y1="889.5" x2="107.5" y2="894" stroke="#444" stroke-width="1" />
<line x1="226.32" y1="889.5" x2="226.32" y2="894" stroke="#444" stroke-width="1" />
<line x1="295.82" y1="889.5" x2="295.82" y2="894" stroke="#444" stroke-width="1" />
<line x1="345.13" y1="889.5" x2="345.13" y2="894" stroke="#444" stroke-width="1" />
<line x1="383.38" y1="889.5" x2="383.38" y2="894" stroke="#444" stroke-width="1" />
<text transform="translate(84.4,811.9) rotate(-90) scale(1.0,1)" font-family="&quot;Liberation Sans&quot;, sans-serif" font-size="8.4" font-weight="normal" text-anchor="middle" fill="#000" stroke="#000" stroke-width="0.05" textLength="19.6" lengthAdjust="spacingAndGlyphs">1.006</text>
<text transform="translate(84.4,845.8) rotate(-90) scale(1.0,1)" font-family="&quot;Liberation Sans&quot;, sans-serif" font-size="8.4" font-weight="normal" text-anchor="middle" fill="#000" stroke="#000" stroke-width="0.05" textLength="19.6" lengthAdjust="spacingAndGlyphs">1.002</text>
<text transform="translate(84.4,886.6) rotate(-90) scale(1.0,1)" font-family="&quot;Liberation Sans&quot;, sans-serif" font-size="8.4" font-weight="normal" text-anchor="middle" fill="#000" stroke="#000" stroke-width="0.05" textLength="19.6" lengthAdjust="spacingAndGlyphs">0.998</text>
<text transform="translate(66.4,845.5) rotate(-90) scale(1.0,1)" font-family="&quot;Liberation Sans&quot;, sans-serif" font-size="8.4" font-weight="normal" text-anchor="middle" fill="#000" stroke="#000" stroke-width="0.05" textLength="56" lengthAdjust="spacingAndGlyphs">Flux correction</text>
<text transform="translate(107.5,907.6) scale(1.0,1)" font-family="&quot;Liberation Sans&quot;, sans-serif" font-size="8.6" font-weight="normal" text-anchor="middle" fill="#000" stroke="#000" stroke-width="0.05">1</text>
<text transform="translate(226.32,907.6) scale(1.0,1)" font-family="&quot;Liberation Sans&quot;, sans-serif" font-size="8.6" font-weight="normal" text-anchor="middle" fill="#000" stroke="#000" stroke-width="0.05">2</text>
<text transform="translate(295.82,907.6) scale(1.0,1)" font-family="&quot;Liberation Sans&quot;, sans-serif" font-size="8.6" font-weight="normal" text-anchor="middle" fill="#000" stroke="#000" stroke-width="0.05">3</text>
<text transform="translate(345.13,907.6) scale(1.0,1)" font-family="&quot;Liberation Sans&quot;, sans-serif" font-size="8.6" font-weight="normal" text-anchor="middle" fill="#000" stroke="#000" stroke-width="0.05">4</text>
<text transform="translate(383.38,907.6) scale(1.0,1)" font-family="&quot;Liberation Sans&quot;, sans-serif" font-size="8.6" font-weight="normal" text-anchor="middle" fill="#000" stroke="#000" stroke-width="0.05">5</text>
<text transform="translate(245.1,922.3) scale(1.0,1)" font-family="&quot;Liberation Sans&quot;, sans-serif" font-size="8.0" font-weight="normal" text-anchor="middle" fill="#000" stroke="#000" stroke-width="0.05" textLength="25.4" lengthAdjust="spacingAndGlyphs">micron</text>
</g>
</svg>
</body></html>
